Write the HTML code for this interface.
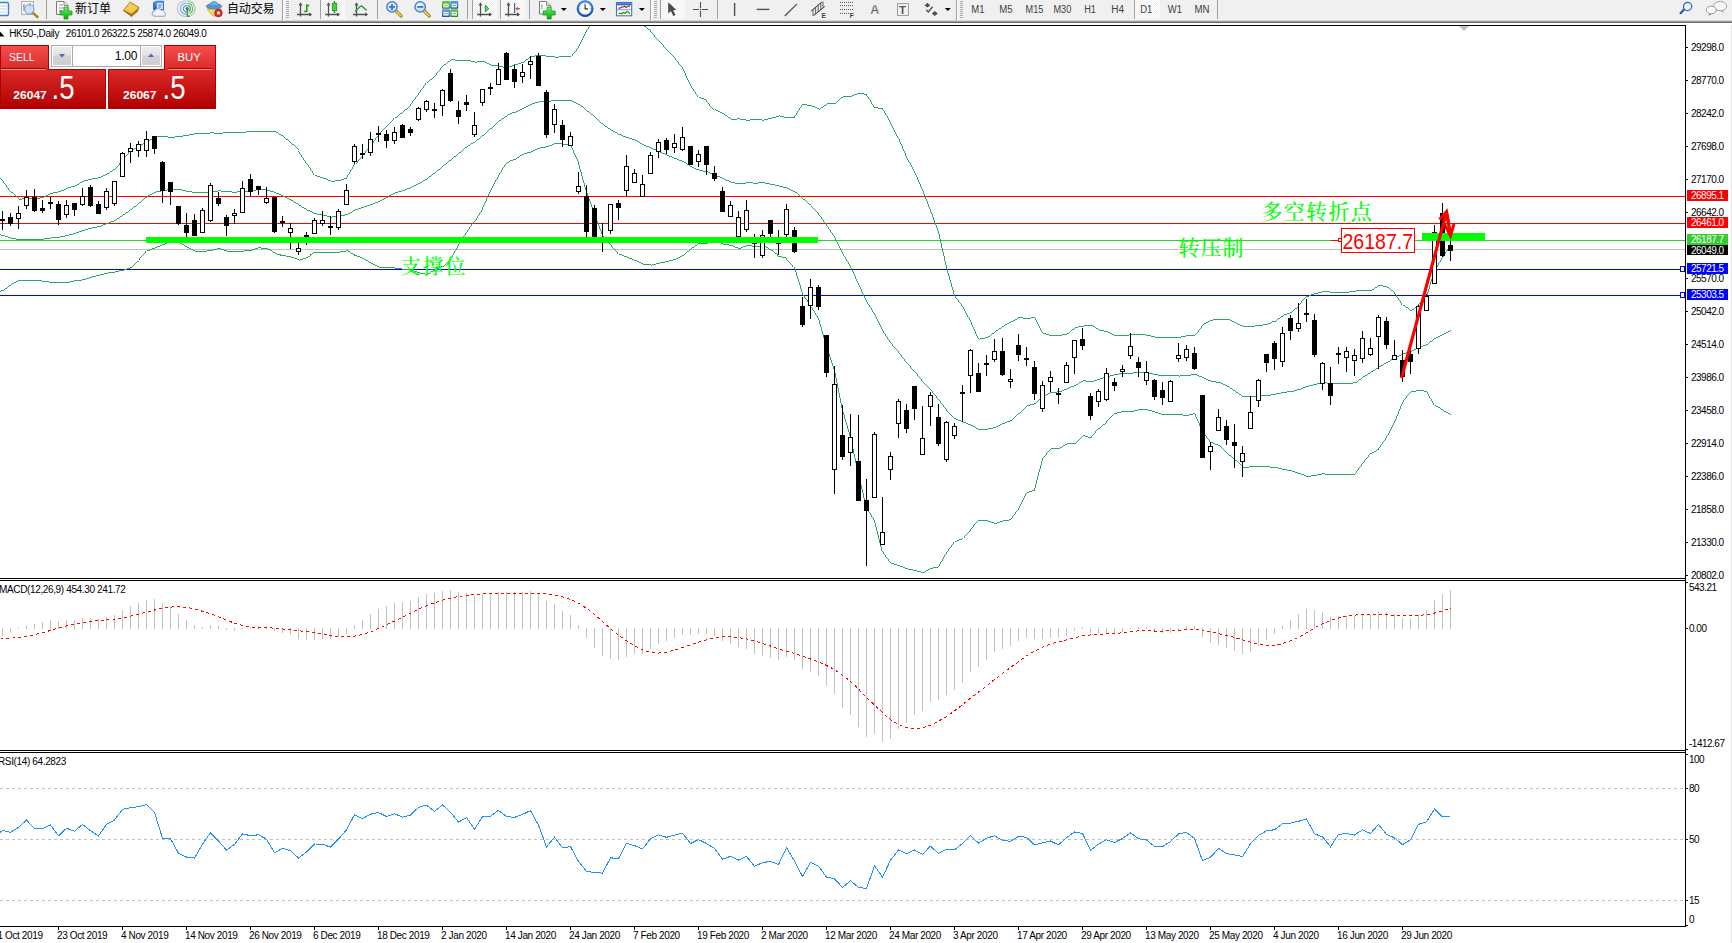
<!DOCTYPE html><html><head><meta charset="utf-8"><title>HK50-,Daily</title><style>html,body{margin:0;padding:0;background:#fff;overflow:hidden}svg{display:block}text{white-space:pre}</style></head><body><svg width="1732" height="943" viewBox="0 0 1732 943" font-family="'Liberation Sans','Noto Sans CJK SC',sans-serif" shape-rendering="crispEdges">
<rect width="1732" height="943" fill="#fff"/>
<g><rect x="0" y="196" width="1685" height="1" fill="#ff0000" /><rect x="0" y="223" width="1685" height="1" fill="#ff0000" /><rect x="0" y="240" width="1685" height="1" fill="#32cd32" /><rect x="0" y="249" width="1685" height="1" fill="#c0c0c0" /><rect x="0" y="269" width="1685" height="1" fill="#0000ff" /><rect x="0" y="295" width="1685" height="1" fill="#0000ff" /><rect x="1680.5" y="266.5" width="4" height="5" fill="#fff" stroke="#0000ff" stroke-width="1"/><rect x="1680.5" y="292.5" width="4" height="5" fill="#fff" stroke="#0000ff" stroke-width="1"/></g>
<g shape-rendering="crispEdges"><polyline fill="none" stroke="#22a257" stroke-width="0.95"  points="-5.5,174.7 2.5,180.4 10.5,192.0 18.5,199.4 26.5,198.0 34.5,199.0 42.5,197.0 50.5,193.4 58.5,191.8 66.5,188.3 74.5,185.7 82.5,181.2 90.5,179.0 98.5,177.8 106.5,173.9 114.5,168.7 122.5,159.5 130.5,150.8 138.5,145.6 146.5,141.7 154.5,136.6 162.5,136.7 170.5,137.3 178.5,136.7 186.5,135.2 194.5,133.7 202.5,133.7 210.5,132.9 218.5,133.3 226.5,132.6 234.5,132.5 242.5,132.1 250.5,131.8 258.5,131.6 266.5,131.8 274.5,131.7 282.5,136.6 290.5,143.1 298.5,150.5 306.5,162.8 314.5,175.3 322.5,178.2 330.5,181.2 338.5,180.7 346.5,177.8 354.5,164.3 362.5,155.5 370.5,146.0 378.5,135.0 386.5,126.8 394.5,117.9 402.5,111.6 410.5,104.7 418.5,93.9 426.5,82.6 434.5,75.5 442.5,65.5 450.5,59.7 458.5,60.5 466.5,60.2 474.5,62.2 482.5,61.4 490.5,65.3 498.5,66.1 506.5,68.0 514.5,64.9 522.5,62.1 530.5,56.4 538.5,55.5 546.5,56.1 554.5,57.1 562.5,56.9 570.5,56.4 578.5,46.5 586.5,30.8 594.5,20.1 602.5,14.7 610.5,15.2 618.5,15.1 626.5,18.2 634.5,19.7 642.5,25.3 650.5,31.4 658.5,40.7 666.5,49.2 674.5,57.6 682.5,68.1 690.5,85.3 698.5,97.3 706.5,100.5 714.5,109.8 722.5,113.7 730.5,119.2 738.5,118.9 746.5,120.3 754.5,119.5 762.5,120.1 770.5,118.3 778.5,115.9 786.5,117.9 794.5,116.9 802.5,104.4 810.5,105.7 818.5,109.1 826.5,103.7 834.5,103.2 842.5,96.2 850.5,96.0 858.5,93.2 866.5,94.7 874.5,107.7 882.5,108.7 890.5,122.5 898.5,138.1 906.5,156.9 914.5,171.8 922.5,190.0 930.5,210.4 938.5,232.2 946.5,267.2 954.5,295.8 962.5,306.2 970.5,321.3 978.5,339.2 986.5,337.6 994.5,331.7 1002.5,326.0 1010.5,321.5 1018.5,317.5 1026.5,318.5 1034.5,317.4 1042.5,333.4 1050.5,335.6 1058.5,335.4 1066.5,333.9 1074.5,327.5 1082.5,326.0 1090.5,325.2 1098.5,330.0 1106.5,331.8 1114.5,335.8 1122.5,335.5 1130.5,334.8 1138.5,334.5 1146.5,335.1 1154.5,337.2 1162.5,337.0 1170.5,337.1 1178.5,337.2 1186.5,335.7 1194.5,335.3 1202.5,324.5 1210.5,320.1 1218.5,319.5 1226.5,319.0 1234.5,322.8 1242.5,326.4 1250.5,326.4 1258.5,325.6 1266.5,324.2 1274.5,321.1 1282.5,315.3 1290.5,312.4 1298.5,305.4 1306.5,296.4 1314.5,293.5 1322.5,291.6 1330.5,292.1 1338.5,292.0 1346.5,292.3 1354.5,291.1 1362.5,290.0 1370.5,290.6 1378.5,285.1 1386.5,287.0 1394.5,293.1 1402.5,305.3 1410.5,310.7 1418.5,305.0 1426.5,296.9 1434.5,270.6 1442.5,257.7 1450.5,245.4"/><polyline fill="none" stroke="#22a257" stroke-width="0.95"  points="-5.5,233.7 2.5,235.4 10.5,238.2 18.5,239.7 26.5,239.4 34.5,239.7 42.5,239.0 50.5,237.9 58.5,237.0 66.5,235.5 74.5,233.2 82.5,230.5 90.5,228.1 98.5,226.4 106.5,223.5 114.5,220.3 122.5,214.8 130.5,209.3 138.5,202.9 146.5,196.3 154.5,192.1 162.5,190.6 170.5,189.1 178.5,189.5 186.5,191.3 194.5,192.6 202.5,192.6 210.5,191.7 218.5,190.8 226.5,191.9 234.5,192.1 242.5,191.6 250.5,190.9 258.5,189.7 266.5,190.1 274.5,192.6 282.5,196.1 290.5,200.1 298.5,205.3 306.5,210.1 314.5,213.7 322.5,215.2 330.5,217.0 338.5,216.4 346.5,214.3 354.5,209.8 362.5,207.0 370.5,204.7 378.5,201.2 386.5,197.0 394.5,192.9 402.5,190.4 410.5,187.4 418.5,183.4 426.5,178.5 434.5,172.4 442.5,165.8 450.5,159.4 458.5,152.9 466.5,146.3 474.5,141.5 482.5,135.0 490.5,128.0 498.5,120.9 506.5,115.4 514.5,112.1 522.5,108.1 530.5,104.2 538.5,101.8 546.5,101.5 554.5,100.3 562.5,100.4 570.5,100.6 578.5,104.5 586.5,111.0 594.5,117.4 602.5,124.9 610.5,130.1 618.5,134.6 626.5,137.7 634.5,140.1 642.5,144.8 650.5,148.2 658.5,151.8 666.5,155.3 674.5,158.4 682.5,161.7 690.5,166.9 698.5,170.3 706.5,171.8 714.5,175.2 722.5,178.8 730.5,182.3 738.5,183.8 746.5,182.8 754.5,183.1 762.5,182.8 770.5,184.3 778.5,186.1 786.5,188.2 794.5,192.1 802.5,199.1 810.5,205.7 818.5,213.9 826.5,225.1 834.5,237.1 842.5,253.1 850.5,266.7 858.5,284.0 866.5,301.3 874.5,314.1 882.5,330.2 890.5,342.7 898.5,352.0 906.5,362.9 914.5,371.1 922.5,381.3 930.5,389.4 938.5,399.4 946.5,410.1 954.5,418.8 962.5,422.2 970.5,425.4 978.5,429.6 986.5,429.2 994.5,427.5 1002.5,423.4 1010.5,420.5 1018.5,413.2 1026.5,405.6 1034.5,403.6 1042.5,396.2 1050.5,392.2 1058.5,391.9 1066.5,388.7 1074.5,385.3 1082.5,380.7 1090.5,381.7 1098.5,379.1 1106.5,376.7 1114.5,374.6 1122.5,373.4 1130.5,373.2 1138.5,372.0 1146.5,372.5 1154.5,374.7 1162.5,375.9 1170.5,375.9 1178.5,376.0 1186.5,375.5 1194.5,374.3 1202.5,377.9 1210.5,381.3 1218.5,382.5 1226.5,386.2 1234.5,391.4 1242.5,396.8 1250.5,396.6 1258.5,396.1 1266.5,395.6 1274.5,394.2 1282.5,392.4 1290.5,391.6 1298.5,389.4 1306.5,386.5 1314.5,384.4 1322.5,382.7 1330.5,383.4 1338.5,383.4 1346.5,383.5 1354.5,382.8 1362.5,376.9 1370.5,371.9 1378.5,366.9 1386.5,362.2 1394.5,357.7 1402.5,353.8 1410.5,351.3 1418.5,347.6 1426.5,344.3 1434.5,338.0 1442.5,334.1 1450.5,330.0"/><polyline fill="none" stroke="#22a257" stroke-width="0.95"  points="-5.5,292.6 2.5,290.5 10.5,284.3 18.5,280.0 26.5,280.9 34.5,280.4 42.5,281.1 50.5,282.4 58.5,282.2 66.5,282.7 74.5,280.7 82.5,279.9 90.5,277.1 98.5,275.0 106.5,273.1 114.5,271.9 122.5,270.1 130.5,267.7 138.5,260.1 146.5,250.9 154.5,247.6 162.5,244.5 170.5,240.8 178.5,242.4 186.5,247.4 194.5,251.4 202.5,251.4 210.5,250.4 218.5,248.4 226.5,251.1 234.5,251.6 242.5,251.1 250.5,250.1 258.5,247.9 266.5,248.4 274.5,253.6 282.5,255.6 290.5,257.0 298.5,260.1 306.5,257.5 314.5,252.1 322.5,252.2 330.5,252.7 338.5,252.1 346.5,250.8 354.5,255.3 362.5,258.5 370.5,263.4 378.5,267.5 386.5,267.2 394.5,268.0 402.5,269.2 410.5,270.2 418.5,272.9 426.5,274.4 434.5,269.4 442.5,266.2 450.5,259.2 458.5,245.3 466.5,232.3 474.5,220.9 482.5,208.5 490.5,190.7 498.5,175.8 506.5,162.7 514.5,159.3 522.5,154.0 530.5,151.9 538.5,148.0 546.5,146.8 554.5,143.6 562.5,144.0 570.5,144.8 578.5,162.5 586.5,191.2 594.5,214.7 602.5,235.0 610.5,244.9 618.5,254.1 626.5,257.2 634.5,260.5 642.5,264.4 650.5,265.0 658.5,263.0 666.5,261.5 674.5,259.3 682.5,255.3 690.5,248.5 698.5,243.3 706.5,243.1 714.5,240.7 722.5,244.0 730.5,245.4 738.5,248.8 746.5,245.2 754.5,246.6 762.5,245.6 770.5,250.2 778.5,256.2 786.5,258.5 794.5,267.2 802.5,293.8 810.5,305.7 818.5,318.7 826.5,346.4 834.5,371.0 842.5,410.0 850.5,437.4 858.5,474.8 866.5,508.0 874.5,520.5 882.5,551.6 890.5,563.0 898.5,565.8 906.5,568.9 914.5,570.5 922.5,572.6 930.5,568.3 938.5,566.6 946.5,552.9 954.5,541.8 962.5,538.2 970.5,529.5 978.5,520.0 986.5,520.8 994.5,523.4 1002.5,520.9 1010.5,519.6 1018.5,508.9 1026.5,492.7 1034.5,489.8 1042.5,458.9 1050.5,448.9 1058.5,448.3 1066.5,443.6 1074.5,443.1 1082.5,435.4 1090.5,438.3 1098.5,428.2 1106.5,421.5 1114.5,413.4 1122.5,411.3 1130.5,411.6 1138.5,409.5 1146.5,409.8 1154.5,412.2 1162.5,414.7 1170.5,414.8 1178.5,414.8 1186.5,415.3 1194.5,413.3 1202.5,431.2 1210.5,442.5 1218.5,445.5 1226.5,453.4 1234.5,460.1 1242.5,467.2 1250.5,466.9 1258.5,466.6 1266.5,466.9 1274.5,467.3 1282.5,469.5 1290.5,470.8 1298.5,473.4 1306.5,476.5 1314.5,475.3 1322.5,473.8 1330.5,474.7 1338.5,474.7 1346.5,474.7 1354.5,474.6 1362.5,463.7 1370.5,453.3 1378.5,448.8 1386.5,437.4 1394.5,422.3 1402.5,402.3 1410.5,391.9 1418.5,390.2 1426.5,391.6 1434.5,405.4 1442.5,410.5 1450.5,414.7"/></g>
<g><rect x="2" y="211" width="1" height="19" fill="#000" /><rect x="0" y="219" width="5" height="2" fill="#000" /><rect x="10" y="213" width="1" height="13" fill="#000" /><rect x="8" y="217" width="5" height="7" fill="#000" /><rect x="18" y="206" width="1" height="23" fill="#000" /><rect x="16" y="213" width="5" height="6" fill="#000" /><rect x="17" y="214" width="3" height="4" fill="#fff" /><rect x="26" y="190" width="1" height="19" fill="#000" /><rect x="24" y="197" width="5" height="9" fill="#000" /><rect x="25" y="198" width="3" height="7" fill="#fff" /><rect x="34" y="189" width="1" height="23" fill="#000" /><rect x="32" y="197" width="5" height="14" fill="#000" /><rect x="42" y="200" width="1" height="13" fill="#000" /><rect x="40" y="208" width="5" height="3" fill="#000" /><rect x="50" y="197" width="1" height="12" fill="#000" /><rect x="48" y="202" width="5" height="2" fill="#000" /><rect x="58" y="201" width="1" height="24" fill="#000" /><rect x="56" y="204" width="5" height="16" fill="#000" /><rect x="66" y="200" width="1" height="18" fill="#000" /><rect x="64" y="205" width="5" height="10" fill="#000" /><rect x="65" y="206" width="3" height="8" fill="#fff" /><rect x="74" y="203" width="1" height="13" fill="#000" /><rect x="72" y="203" width="5" height="7" fill="#000" /><rect x="82" y="188" width="1" height="18" fill="#000" /><rect x="80" y="196" width="5" height="9" fill="#000" /><rect x="81" y="197" width="3" height="7" fill="#fff" /><rect x="90" y="185" width="1" height="22" fill="#000" /><rect x="88" y="187" width="5" height="19" fill="#000" /><rect x="98" y="201" width="1" height="13" fill="#000" /><rect x="96" y="204" width="5" height="10" fill="#000" /><rect x="106" y="188" width="1" height="22" fill="#000" /><rect x="104" y="191" width="5" height="17" fill="#000" /><rect x="105" y="192" width="3" height="15" fill="#fff" /><rect x="114" y="181" width="1" height="25" fill="#000" /><rect x="112" y="181" width="5" height="23" fill="#000" /><rect x="113" y="182" width="3" height="21" fill="#fff" /><rect x="122" y="152" width="1" height="25" fill="#000" /><rect x="120" y="153" width="5" height="24" fill="#000" /><rect x="121" y="154" width="3" height="22" fill="#fff" /><rect x="130" y="143" width="1" height="20" fill="#000" /><rect x="128" y="148" width="5" height="4" fill="#000" /><rect x="129" y="149" width="3" height="2" fill="#fff" /><rect x="138" y="141" width="1" height="16" fill="#000" /><rect x="136" y="144" width="5" height="7" fill="#000" /><rect x="137" y="145" width="3" height="5" fill="#fff" /><rect x="146" y="131" width="1" height="26" fill="#000" /><rect x="144" y="139" width="5" height="12" fill="#000" /><rect x="145" y="140" width="3" height="10" fill="#fff" /><rect x="154" y="136" width="1" height="18" fill="#000" /><rect x="152" y="136" width="5" height="13" fill="#000" /><rect x="162" y="161" width="1" height="42" fill="#000" /><rect x="160" y="162" width="5" height="29" fill="#000" /><rect x="170" y="182" width="1" height="23" fill="#000" /><rect x="168" y="182" width="5" height="10" fill="#000" /><rect x="178" y="206" width="1" height="19" fill="#000" /><rect x="176" y="206" width="5" height="18" fill="#000" /><rect x="186" y="213" width="1" height="25" fill="#000" /><rect x="184" y="225" width="5" height="8" fill="#000" /><rect x="194" y="214" width="1" height="22" fill="#000" /><rect x="192" y="220" width="5" height="16" fill="#000" /><rect x="202" y="208" width="1" height="25" fill="#000" /><rect x="200" y="210" width="5" height="23" fill="#000" /><rect x="201" y="211" width="3" height="21" fill="#fff" /><rect x="210" y="183" width="1" height="39" fill="#000" /><rect x="208" y="185" width="5" height="36" fill="#000" /><rect x="209" y="186" width="3" height="34" fill="#fff" /><rect x="218" y="192" width="1" height="14" fill="#000" /><rect x="216" y="198" width="5" height="6" fill="#000" /><rect x="226" y="215" width="1" height="21" fill="#000" /><rect x="224" y="217" width="5" height="9" fill="#000" /><rect x="234" y="209" width="1" height="15" fill="#000" /><rect x="232" y="213" width="5" height="3" fill="#000" /><rect x="233" y="214" width="3" height="1" fill="#fff" /><rect x="242" y="181" width="1" height="32" fill="#000" /><rect x="240" y="188" width="5" height="25" fill="#000" /><rect x="241" y="189" width="3" height="23" fill="#fff" /><rect x="250" y="174" width="1" height="22" fill="#000" /><rect x="248" y="179" width="5" height="13" fill="#000" /><rect x="258" y="186" width="1" height="9" fill="#000" /><rect x="256" y="186" width="5" height="4" fill="#000" /><rect x="266" y="187" width="1" height="17" fill="#000" /><rect x="264" y="198" width="5" height="5" fill="#000" /><rect x="265" y="199" width="3" height="3" fill="#fff" /><rect x="274" y="197" width="1" height="36" fill="#000" /><rect x="272" y="197" width="5" height="35" fill="#000" /><rect x="282" y="216" width="1" height="11" fill="#000" /><rect x="280" y="221" width="5" height="2" fill="#000" /><rect x="290" y="223" width="1" height="26" fill="#000" /><rect x="288" y="228" width="5" height="5" fill="#000" /><rect x="289" y="229" width="3" height="3" fill="#fff" /><rect x="298" y="243" width="1" height="12" fill="#000" /><rect x="296" y="248" width="5" height="4" fill="#000" /><rect x="297" y="249" width="3" height="2" fill="#fff" /><rect x="306" y="232" width="1" height="13" fill="#000" /><rect x="304" y="235" width="5" height="2" fill="#000" /><rect x="314" y="218" width="1" height="16" fill="#000" /><rect x="312" y="220" width="5" height="14" fill="#000" /><rect x="313" y="221" width="3" height="12" fill="#fff" /><rect x="322" y="211" width="1" height="15" fill="#000" /><rect x="320" y="220" width="5" height="4" fill="#000" /><rect x="321" y="221" width="3" height="2" fill="#fff" /><rect x="330" y="216" width="1" height="19" fill="#000" /><rect x="328" y="226" width="5" height="2" fill="#000" /><rect x="338" y="209" width="1" height="21" fill="#000" /><rect x="336" y="211" width="5" height="17" fill="#000" /><rect x="337" y="212" width="3" height="15" fill="#fff" /><rect x="346" y="184" width="1" height="21" fill="#000" /><rect x="344" y="190" width="5" height="15" fill="#000" /><rect x="345" y="191" width="3" height="13" fill="#fff" /><rect x="354" y="144" width="1" height="20" fill="#000" /><rect x="352" y="146" width="5" height="16" fill="#000" /><rect x="353" y="147" width="3" height="14" fill="#fff" /><rect x="362" y="144" width="1" height="15" fill="#000" /><rect x="360" y="153" width="5" height="2" fill="#000" /><rect x="370" y="132" width="1" height="24" fill="#000" /><rect x="368" y="139" width="5" height="14" fill="#000" /><rect x="369" y="140" width="3" height="12" fill="#fff" /><rect x="378" y="126" width="1" height="16" fill="#000" /><rect x="376" y="133" width="5" height="2" fill="#000" /><rect x="386" y="130" width="1" height="18" fill="#000" /><rect x="384" y="134" width="5" height="7" fill="#000" /><rect x="394" y="127" width="1" height="17" fill="#000" /><rect x="392" y="132" width="5" height="9" fill="#000" /><rect x="393" y="133" width="3" height="7" fill="#fff" /><rect x="402" y="124" width="1" height="14" fill="#000" /><rect x="400" y="125" width="5" height="13" fill="#000" /><rect x="410" y="127" width="1" height="9" fill="#000" /><rect x="408" y="129" width="5" height="4" fill="#000" /><rect x="418" y="107" width="1" height="14" fill="#000" /><rect x="416" y="108" width="5" height="12" fill="#000" /><rect x="417" y="109" width="3" height="10" fill="#fff" /><rect x="426" y="100" width="1" height="12" fill="#000" /><rect x="424" y="101" width="5" height="9" fill="#000" /><rect x="425" y="102" width="3" height="7" fill="#fff" /><rect x="434" y="103" width="1" height="15" fill="#000" /><rect x="432" y="109" width="5" height="2" fill="#000" /><rect x="442" y="89" width="1" height="27" fill="#000" /><rect x="440" y="90" width="5" height="16" fill="#000" /><rect x="441" y="91" width="3" height="14" fill="#fff" /><rect x="450" y="69" width="1" height="33" fill="#000" /><rect x="448" y="73" width="5" height="28" fill="#000" /><rect x="458" y="101" width="1" height="23" fill="#000" /><rect x="456" y="110" width="5" height="7" fill="#000" /><rect x="466" y="95" width="1" height="16" fill="#000" /><rect x="464" y="102" width="5" height="3" fill="#000" /><rect x="474" y="112" width="1" height="25" fill="#000" /><rect x="472" y="125" width="5" height="10" fill="#000" /><rect x="473" y="126" width="3" height="8" fill="#fff" /><rect x="482" y="89" width="1" height="17" fill="#000" /><rect x="480" y="89" width="5" height="14" fill="#000" /><rect x="481" y="90" width="3" height="12" fill="#fff" /><rect x="490" y="83" width="1" height="12" fill="#000" /><rect x="488" y="87" width="5" height="2" fill="#000" /><rect x="498" y="63" width="1" height="22" fill="#000" /><rect x="496" y="69" width="5" height="16" fill="#000" /><rect x="497" y="70" width="3" height="14" fill="#fff" /><rect x="506" y="52" width="1" height="28" fill="#000" /><rect x="504" y="53" width="5" height="27" fill="#000" /><rect x="514" y="65" width="1" height="23" fill="#000" /><rect x="512" y="69" width="5" height="13" fill="#000" /><rect x="522" y="64" width="1" height="19" fill="#000" /><rect x="520" y="72" width="5" height="5" fill="#000" /><rect x="521" y="73" width="3" height="3" fill="#fff" /><rect x="530" y="56" width="1" height="23" fill="#000" /><rect x="528" y="61" width="5" height="4" fill="#000" /><rect x="529" y="62" width="3" height="2" fill="#fff" /><rect x="538" y="53" width="1" height="33" fill="#000" /><rect x="536" y="56" width="5" height="30" fill="#000" /><rect x="546" y="90" width="1" height="48" fill="#000" /><rect x="544" y="92" width="5" height="43" fill="#000" /><rect x="554" y="104" width="1" height="29" fill="#000" /><rect x="552" y="109" width="5" height="16" fill="#000" /><rect x="553" y="110" width="3" height="14" fill="#fff" /><rect x="562" y="120" width="1" height="27" fill="#000" /><rect x="560" y="125" width="5" height="15" fill="#000" /><rect x="570" y="132" width="1" height="14" fill="#000" /><rect x="568" y="136" width="5" height="10" fill="#000" /><rect x="569" y="137" width="3" height="8" fill="#fff" /><rect x="578" y="172" width="1" height="22" fill="#000" /><rect x="576" y="186" width="5" height="6" fill="#000" /><rect x="577" y="187" width="3" height="4" fill="#fff" /><rect x="586" y="185" width="1" height="53" fill="#000" /><rect x="584" y="196" width="5" height="36" fill="#000" /><rect x="594" y="205" width="1" height="33" fill="#000" /><rect x="592" y="208" width="5" height="30" fill="#000" /><rect x="602" y="223" width="1" height="29" fill="#000" /><rect x="600" y="239" width="5" height="2" fill="#000" /><rect x="610" y="204" width="1" height="30" fill="#000" /><rect x="608" y="204" width="5" height="27" fill="#000" /><rect x="609" y="205" width="3" height="25" fill="#fff" /><rect x="618" y="200" width="1" height="20" fill="#000" /><rect x="616" y="203" width="5" height="5" fill="#000" /><rect x="626" y="155" width="1" height="41" fill="#000" /><rect x="624" y="166" width="5" height="25" fill="#000" /><rect x="625" y="167" width="3" height="23" fill="#fff" /><rect x="634" y="169" width="1" height="14" fill="#000" /><rect x="632" y="173" width="5" height="10" fill="#000" /><rect x="633" y="174" width="3" height="8" fill="#fff" /><rect x="642" y="175" width="1" height="22" fill="#000" /><rect x="640" y="184" width="5" height="13" fill="#000" /><rect x="641" y="185" width="3" height="11" fill="#fff" /><rect x="650" y="152" width="1" height="22" fill="#000" /><rect x="648" y="155" width="5" height="19" fill="#000" /><rect x="649" y="156" width="3" height="17" fill="#fff" /><rect x="658" y="139" width="1" height="19" fill="#000" /><rect x="656" y="142" width="5" height="10" fill="#000" /><rect x="657" y="143" width="3" height="8" fill="#fff" /><rect x="666" y="138" width="1" height="16" fill="#000" /><rect x="664" y="140" width="5" height="10" fill="#000" /><rect x="674" y="134" width="1" height="19" fill="#000" /><rect x="672" y="143" width="5" height="5" fill="#000" /><rect x="673" y="144" width="3" height="3" fill="#fff" /><rect x="682" y="127" width="1" height="24" fill="#000" /><rect x="680" y="137" width="5" height="13" fill="#000" /><rect x="681" y="138" width="3" height="11" fill="#fff" /><rect x="690" y="146" width="1" height="19" fill="#000" /><rect x="688" y="146" width="5" height="19" fill="#000" /><rect x="698" y="150" width="1" height="17" fill="#000" /><rect x="696" y="154" width="5" height="8" fill="#000" /><rect x="697" y="155" width="3" height="6" fill="#fff" /><rect x="706" y="146" width="1" height="29" fill="#000" /><rect x="704" y="146" width="5" height="19" fill="#000" /><rect x="714" y="166" width="1" height="15" fill="#000" /><rect x="712" y="173" width="5" height="6" fill="#000" /><rect x="722" y="187" width="1" height="25" fill="#000" /><rect x="720" y="191" width="5" height="21" fill="#000" /><rect x="730" y="201" width="1" height="16" fill="#000" /><rect x="728" y="205" width="5" height="12" fill="#000" /><rect x="729" y="206" width="3" height="10" fill="#fff" /><rect x="738" y="211" width="1" height="26" fill="#000" /><rect x="736" y="217" width="5" height="20" fill="#000" /><rect x="737" y="218" width="3" height="18" fill="#fff" /><rect x="746" y="200" width="1" height="32" fill="#000" /><rect x="744" y="210" width="5" height="20" fill="#000" /><rect x="745" y="211" width="3" height="18" fill="#fff" /><rect x="754" y="234" width="1" height="24" fill="#000" /><rect x="752" y="242" width="5" height="2" fill="#000" /><rect x="762" y="230" width="1" height="28" fill="#000" /><rect x="760" y="235" width="5" height="21" fill="#000" /><rect x="761" y="236" width="3" height="19" fill="#fff" /><rect x="770" y="220" width="1" height="18" fill="#000" /><rect x="768" y="220" width="5" height="14" fill="#000" /><rect x="778" y="230" width="1" height="25" fill="#000" /><rect x="776" y="242" width="5" height="2" fill="#000" /><rect x="786" y="204" width="1" height="33" fill="#000" /><rect x="784" y="209" width="5" height="26" fill="#000" /><rect x="785" y="210" width="3" height="24" fill="#fff" /><rect x="794" y="227" width="1" height="26" fill="#000" /><rect x="792" y="230" width="5" height="22" fill="#000" /><rect x="802" y="297" width="1" height="30" fill="#000" /><rect x="800" y="306" width="5" height="19" fill="#000" /><rect x="810" y="279" width="1" height="40" fill="#000" /><rect x="808" y="287" width="5" height="19" fill="#000" /><rect x="809" y="288" width="3" height="17" fill="#fff" /><rect x="818" y="285" width="1" height="25" fill="#000" /><rect x="816" y="287" width="5" height="20" fill="#000" /><rect x="826" y="335" width="1" height="42" fill="#000" /><rect x="824" y="335" width="5" height="38" fill="#000" /><rect x="834" y="366" width="1" height="128" fill="#000" /><rect x="832" y="384" width="5" height="86" fill="#000" /><rect x="833" y="385" width="3" height="84" fill="#fff" /><rect x="842" y="405" width="1" height="55" fill="#000" /><rect x="840" y="435" width="5" height="22" fill="#000" /><rect x="850" y="414" width="1" height="52" fill="#000" /><rect x="848" y="437" width="5" height="16" fill="#000" /><rect x="849" y="438" width="3" height="14" fill="#fff" /><rect x="858" y="415" width="1" height="86" fill="#000" /><rect x="856" y="461" width="5" height="40" fill="#000" /><rect x="866" y="479" width="1" height="87" fill="#000" /><rect x="864" y="500" width="5" height="11" fill="#000" /><rect x="874" y="432" width="1" height="66" fill="#000" /><rect x="872" y="434" width="5" height="64" fill="#000" /><rect x="873" y="435" width="3" height="62" fill="#fff" /><rect x="882" y="497" width="1" height="48" fill="#000" /><rect x="880" y="532" width="5" height="13" fill="#000" /><rect x="881" y="533" width="3" height="11" fill="#fff" /><rect x="890" y="452" width="1" height="28" fill="#000" /><rect x="888" y="456" width="5" height="14" fill="#000" /><rect x="889" y="457" width="3" height="12" fill="#fff" /><rect x="898" y="399" width="1" height="39" fill="#000" /><rect x="896" y="401" width="5" height="23" fill="#000" /><rect x="897" y="402" width="3" height="21" fill="#fff" /><rect x="906" y="404" width="1" height="29" fill="#000" /><rect x="904" y="410" width="5" height="19" fill="#000" /><rect x="914" y="386" width="1" height="34" fill="#000" /><rect x="912" y="386" width="5" height="23" fill="#000" /><rect x="922" y="406" width="1" height="49" fill="#000" /><rect x="920" y="438" width="5" height="17" fill="#000" /><rect x="921" y="439" width="3" height="15" fill="#fff" /><rect x="930" y="392" width="1" height="34" fill="#000" /><rect x="928" y="395" width="5" height="12" fill="#000" /><rect x="929" y="396" width="3" height="10" fill="#fff" /><rect x="938" y="404" width="1" height="42" fill="#000" /><rect x="936" y="417" width="5" height="27" fill="#000" /><rect x="946" y="421" width="1" height="41" fill="#000" /><rect x="944" y="422" width="5" height="38" fill="#000" /><rect x="945" y="423" width="3" height="36" fill="#fff" /><rect x="954" y="423" width="1" height="16" fill="#000" /><rect x="952" y="426" width="5" height="10" fill="#000" /><rect x="953" y="427" width="3" height="8" fill="#fff" /><rect x="962" y="385" width="1" height="37" fill="#000" /><rect x="960" y="392" width="5" height="2" fill="#000" /><rect x="970" y="349" width="1" height="44" fill="#000" /><rect x="968" y="350" width="5" height="26" fill="#000" /><rect x="969" y="351" width="3" height="24" fill="#fff" /><rect x="978" y="363" width="1" height="29" fill="#000" /><rect x="976" y="373" width="5" height="19" fill="#000" /><rect x="986" y="355" width="1" height="21" fill="#000" /><rect x="984" y="363" width="5" height="2" fill="#000" /><rect x="994" y="339" width="1" height="23" fill="#000" /><rect x="992" y="351" width="5" height="9" fill="#000" /><rect x="993" y="352" width="3" height="7" fill="#fff" /><rect x="1002" y="338" width="1" height="38" fill="#000" /><rect x="1000" y="351" width="5" height="24" fill="#000" /><rect x="1010" y="369" width="1" height="19" fill="#000" /><rect x="1008" y="379" width="5" height="3" fill="#000" /><rect x="1009" y="380" width="3" height="1" fill="#fff" /><rect x="1018" y="334" width="1" height="27" fill="#000" /><rect x="1016" y="345" width="5" height="10" fill="#000" /><rect x="1026" y="347" width="1" height="19" fill="#000" /><rect x="1024" y="358" width="5" height="2" fill="#000" /><rect x="1034" y="361" width="1" height="39" fill="#000" /><rect x="1032" y="367" width="5" height="27" fill="#000" /><rect x="1042" y="381" width="1" height="31" fill="#000" /><rect x="1040" y="385" width="5" height="24" fill="#000" /><rect x="1041" y="386" width="3" height="22" fill="#fff" /><rect x="1050" y="371" width="1" height="21" fill="#000" /><rect x="1048" y="377" width="5" height="5" fill="#000" /><rect x="1049" y="378" width="3" height="3" fill="#fff" /><rect x="1058" y="388" width="1" height="16" fill="#000" /><rect x="1056" y="393" width="5" height="2" fill="#000" /><rect x="1066" y="362" width="1" height="21" fill="#000" /><rect x="1064" y="365" width="5" height="18" fill="#000" /><rect x="1065" y="366" width="3" height="16" fill="#fff" /><rect x="1074" y="340" width="1" height="34" fill="#000" /><rect x="1072" y="340" width="5" height="18" fill="#000" /><rect x="1073" y="341" width="3" height="16" fill="#fff" /><rect x="1082" y="328" width="1" height="22" fill="#000" /><rect x="1080" y="339" width="5" height="7" fill="#000" /><rect x="1090" y="393" width="1" height="27" fill="#000" /><rect x="1088" y="396" width="5" height="20" fill="#000" /><rect x="1098" y="389" width="1" height="18" fill="#000" /><rect x="1096" y="391" width="5" height="11" fill="#000" /><rect x="1097" y="392" width="3" height="9" fill="#fff" /><rect x="1106" y="368" width="1" height="33" fill="#000" /><rect x="1104" y="373" width="5" height="27" fill="#000" /><rect x="1105" y="374" width="3" height="25" fill="#fff" /><rect x="1114" y="378" width="1" height="13" fill="#000" /><rect x="1112" y="382" width="5" height="4" fill="#000" /><rect x="1122" y="365" width="1" height="12" fill="#000" /><rect x="1120" y="369" width="5" height="3" fill="#000" /><rect x="1121" y="370" width="3" height="1" fill="#fff" /><rect x="1130" y="333" width="1" height="26" fill="#000" /><rect x="1128" y="346" width="5" height="10" fill="#000" /><rect x="1129" y="347" width="3" height="8" fill="#fff" /><rect x="1138" y="357" width="1" height="20" fill="#000" /><rect x="1136" y="362" width="5" height="6" fill="#000" /><rect x="1146" y="361" width="1" height="24" fill="#000" /><rect x="1144" y="372" width="5" height="9" fill="#000" /><rect x="1145" y="373" width="3" height="7" fill="#fff" /><rect x="1154" y="379" width="1" height="21" fill="#000" /><rect x="1152" y="380" width="5" height="17" fill="#000" /><rect x="1162" y="382" width="1" height="23" fill="#000" /><rect x="1160" y="390" width="5" height="8" fill="#000" /><rect x="1170" y="380" width="1" height="22" fill="#000" /><rect x="1168" y="381" width="5" height="21" fill="#000" /><rect x="1169" y="382" width="3" height="19" fill="#fff" /><rect x="1178" y="343" width="1" height="19" fill="#000" /><rect x="1176" y="355" width="5" height="4" fill="#000" /><rect x="1177" y="356" width="3" height="2" fill="#fff" /><rect x="1186" y="345" width="1" height="16" fill="#000" /><rect x="1184" y="349" width="5" height="9" fill="#000" /><rect x="1185" y="350" width="3" height="7" fill="#fff" /><rect x="1194" y="347" width="1" height="23" fill="#000" /><rect x="1192" y="353" width="5" height="16" fill="#000" /><rect x="1202" y="395" width="1" height="63" fill="#000" /><rect x="1200" y="395" width="5" height="63" fill="#000" /><rect x="1210" y="442" width="1" height="28" fill="#000" /><rect x="1208" y="446" width="5" height="6" fill="#000" /><rect x="1209" y="447" width="3" height="4" fill="#fff" /><rect x="1218" y="409" width="1" height="22" fill="#000" /><rect x="1216" y="417" width="5" height="14" fill="#000" /><rect x="1217" y="418" width="3" height="12" fill="#fff" /><rect x="1226" y="420" width="1" height="25" fill="#000" /><rect x="1224" y="426" width="5" height="14" fill="#000" /><rect x="1234" y="424" width="1" height="44" fill="#000" /><rect x="1232" y="442" width="5" height="4" fill="#000" /><rect x="1242" y="446" width="1" height="31" fill="#000" /><rect x="1240" y="453" width="5" height="9" fill="#000" /><rect x="1241" y="454" width="3" height="7" fill="#fff" /><rect x="1250" y="396" width="1" height="33" fill="#000" /><rect x="1248" y="412" width="5" height="17" fill="#000" /><rect x="1249" y="413" width="3" height="15" fill="#fff" /><rect x="1258" y="379" width="1" height="28" fill="#000" /><rect x="1256" y="380" width="5" height="21" fill="#000" /><rect x="1257" y="381" width="3" height="19" fill="#fff" /><rect x="1266" y="354" width="1" height="18" fill="#000" /><rect x="1264" y="354" width="5" height="9" fill="#000" /><rect x="1274" y="341" width="1" height="29" fill="#000" /><rect x="1272" y="343" width="5" height="16" fill="#000" /><rect x="1282" y="327" width="1" height="40" fill="#000" /><rect x="1280" y="333" width="5" height="29" fill="#000" /><rect x="1281" y="334" width="3" height="27" fill="#fff" /><rect x="1290" y="315" width="1" height="25" fill="#000" /><rect x="1288" y="318" width="5" height="13" fill="#000" /><rect x="1298" y="303" width="1" height="29" fill="#000" /><rect x="1296" y="323" width="5" height="6" fill="#000" /><rect x="1297" y="324" width="3" height="4" fill="#fff" /><rect x="1306" y="299" width="1" height="23" fill="#000" /><rect x="1304" y="313" width="5" height="2" fill="#000" /><rect x="1314" y="314" width="1" height="43" fill="#000" /><rect x="1312" y="320" width="5" height="35" fill="#000" /><rect x="1322" y="362" width="1" height="28" fill="#000" /><rect x="1320" y="363" width="5" height="21" fill="#000" /><rect x="1321" y="364" width="3" height="19" fill="#fff" /><rect x="1330" y="367" width="1" height="38" fill="#000" /><rect x="1328" y="383" width="5" height="13" fill="#000" /><rect x="1338" y="347" width="1" height="17" fill="#000" /><rect x="1336" y="353" width="5" height="2" fill="#000" /><rect x="1346" y="347" width="1" height="25" fill="#000" /><rect x="1344" y="351" width="5" height="7" fill="#000" /><rect x="1345" y="352" width="3" height="5" fill="#fff" /><rect x="1354" y="349" width="1" height="27" fill="#000" /><rect x="1352" y="355" width="5" height="6" fill="#000" /><rect x="1353" y="356" width="3" height="4" fill="#fff" /><rect x="1362" y="331" width="1" height="32" fill="#000" /><rect x="1360" y="338" width="5" height="21" fill="#000" /><rect x="1361" y="339" width="3" height="19" fill="#fff" /><rect x="1370" y="338" width="1" height="18" fill="#000" /><rect x="1368" y="348" width="5" height="7" fill="#000" /><rect x="1369" y="349" width="3" height="5" fill="#fff" /><rect x="1378" y="315" width="1" height="54" fill="#000" /><rect x="1376" y="317" width="5" height="20" fill="#000" /><rect x="1377" y="318" width="3" height="18" fill="#fff" /><rect x="1386" y="317" width="1" height="32" fill="#000" /><rect x="1384" y="321" width="5" height="24" fill="#000" /><rect x="1394" y="340" width="1" height="20" fill="#000" /><rect x="1392" y="355" width="5" height="5" fill="#000" /><rect x="1393" y="356" width="3" height="3" fill="#fff" /><rect x="1402" y="350" width="1" height="32" fill="#000" /><rect x="1400" y="360" width="5" height="17" fill="#000" /><rect x="1410" y="350" width="1" height="24" fill="#000" /><rect x="1408" y="354" width="5" height="8" fill="#000" /><rect x="1418" y="305" width="1" height="49" fill="#000" /><rect x="1416" y="306" width="5" height="43" fill="#000" /><rect x="1417" y="307" width="3" height="41" fill="#fff" /><rect x="1426" y="294" width="1" height="17" fill="#000" /><rect x="1424" y="296" width="5" height="15" fill="#000" /><rect x="1425" y="297" width="3" height="13" fill="#fff" /><rect x="1434" y="225" width="1" height="59" fill="#000" /><rect x="1432" y="232" width="5" height="52" fill="#000" /><rect x="1433" y="233" width="3" height="50" fill="#fff" /><rect x="1442" y="203" width="1" height="54" fill="#000" /><rect x="1440" y="213" width="5" height="43" fill="#000" /><rect x="1450" y="241" width="1" height="20" fill="#000" /><rect x="1448" y="245" width="5" height="6" fill="#000" /></g>
<g><rect x="2" y="628" width="1" height="8" fill="#c0c0c0" /><rect x="10" y="628" width="1" height="5" fill="#c0c0c0" /><rect x="18" y="628" width="1" height="1" fill="#c0c0c0" /><rect x="26" y="626" width="1" height="3" fill="#c0c0c0" /><rect x="34" y="624" width="1" height="5" fill="#c0c0c0" /><rect x="42" y="622" width="1" height="7" fill="#c0c0c0" /><rect x="50" y="620" width="1" height="9" fill="#c0c0c0" /><rect x="58" y="621" width="1" height="8" fill="#c0c0c0" /><rect x="66" y="620" width="1" height="9" fill="#c0c0c0" /><rect x="74" y="620" width="1" height="9" fill="#c0c0c0" /><rect x="82" y="618" width="1" height="11" fill="#c0c0c0" /><rect x="90" y="618" width="1" height="11" fill="#c0c0c0" /><rect x="98" y="619" width="1" height="10" fill="#c0c0c0" /><rect x="106" y="617" width="1" height="12" fill="#c0c0c0" /><rect x="114" y="615" width="1" height="14" fill="#c0c0c0" /><rect x="122" y="610" width="1" height="19" fill="#c0c0c0" /><rect x="130" y="606" width="1" height="23" fill="#c0c0c0" /><rect x="138" y="603" width="1" height="26" fill="#c0c0c0" /><rect x="146" y="600" width="1" height="29" fill="#c0c0c0" /><rect x="154" y="599" width="1" height="30" fill="#c0c0c0" /><rect x="162" y="603" width="1" height="26" fill="#c0c0c0" /><rect x="170" y="607" width="1" height="22" fill="#c0c0c0" /><rect x="178" y="614" width="1" height="15" fill="#c0c0c0" /><rect x="186" y="620" width="1" height="9" fill="#c0c0c0" /><rect x="194" y="625" width="1" height="4" fill="#c0c0c0" /><rect x="202" y="627" width="1" height="2" fill="#c0c0c0" /><rect x="210" y="625" width="1" height="4" fill="#c0c0c0" /><rect x="218" y="626" width="1" height="3" fill="#c0c0c0" /><rect x="226" y="628" width="1" height="2" fill="#c0c0c0" /><rect x="234" y="628" width="1" height="3" fill="#c0c0c0" /><rect x="242" y="628" width="1" height="1" fill="#c0c0c0" /><rect x="250" y="627" width="1" height="2" fill="#c0c0c0" /><rect x="258" y="626" width="1" height="3" fill="#c0c0c0" /><rect x="266" y="626" width="1" height="3" fill="#c0c0c0" /><rect x="274" y="628" width="1" height="3" fill="#c0c0c0" /><rect x="282" y="628" width="1" height="5" fill="#c0c0c0" /><rect x="290" y="628" width="1" height="7" fill="#c0c0c0" /><rect x="298" y="628" width="1" height="11" fill="#c0c0c0" /><rect x="306" y="628" width="1" height="12" fill="#c0c0c0" /><rect x="314" y="628" width="1" height="12" fill="#c0c0c0" /><rect x="322" y="628" width="1" height="11" fill="#c0c0c0" /><rect x="330" y="628" width="1" height="11" fill="#c0c0c0" /><rect x="338" y="628" width="1" height="9" fill="#c0c0c0" /><rect x="346" y="628" width="1" height="6" fill="#c0c0c0" /><rect x="354" y="625" width="1" height="4" fill="#c0c0c0" /><rect x="362" y="620" width="1" height="9" fill="#c0c0c0" /><rect x="370" y="614" width="1" height="15" fill="#c0c0c0" /><rect x="378" y="609" width="1" height="20" fill="#c0c0c0" /><rect x="386" y="606" width="1" height="23" fill="#c0c0c0" /><rect x="394" y="603" width="1" height="26" fill="#c0c0c0" /><rect x="402" y="602" width="1" height="27" fill="#c0c0c0" /><rect x="410" y="601" width="1" height="28" fill="#c0c0c0" /><rect x="418" y="597" width="1" height="32" fill="#c0c0c0" /><rect x="426" y="594" width="1" height="35" fill="#c0c0c0" /><rect x="434" y="593" width="1" height="36" fill="#c0c0c0" /><rect x="442" y="591" width="1" height="38" fill="#c0c0c0" /><rect x="450" y="590" width="1" height="39" fill="#c0c0c0" /><rect x="458" y="592" width="1" height="37" fill="#c0c0c0" /><rect x="466" y="593" width="1" height="36" fill="#c0c0c0" /><rect x="474" y="596" width="1" height="33" fill="#c0c0c0" /><rect x="482" y="594" width="1" height="35" fill="#c0c0c0" /><rect x="490" y="594" width="1" height="35" fill="#c0c0c0" /><rect x="498" y="592" width="1" height="37" fill="#c0c0c0" /><rect x="506" y="592" width="1" height="37" fill="#c0c0c0" /><rect x="514" y="592" width="1" height="37" fill="#c0c0c0" /><rect x="522" y="592" width="1" height="37" fill="#c0c0c0" /><rect x="530" y="591" width="1" height="38" fill="#c0c0c0" /><rect x="538" y="593" width="1" height="36" fill="#c0c0c0" /><rect x="546" y="601" width="1" height="28" fill="#c0c0c0" /><rect x="554" y="604" width="1" height="25" fill="#c0c0c0" /><rect x="562" y="611" width="1" height="18" fill="#c0c0c0" /><rect x="570" y="615" width="1" height="14" fill="#c0c0c0" /><rect x="578" y="625" width="1" height="4" fill="#c0c0c0" /><rect x="586" y="628" width="1" height="10" fill="#c0c0c0" /><rect x="594" y="628" width="1" height="20" fill="#c0c0c0" /><rect x="602" y="628" width="1" height="28" fill="#c0c0c0" /><rect x="610" y="628" width="1" height="31" fill="#c0c0c0" /><rect x="618" y="628" width="1" height="32" fill="#c0c0c0" /><rect x="626" y="628" width="1" height="29" fill="#c0c0c0" /><rect x="634" y="628" width="1" height="26" fill="#c0c0c0" /><rect x="642" y="628" width="1" height="26" fill="#c0c0c0" /><rect x="650" y="628" width="1" height="21" fill="#c0c0c0" /><rect x="658" y="628" width="1" height="16" fill="#c0c0c0" /><rect x="666" y="628" width="1" height="13" fill="#c0c0c0" /><rect x="674" y="628" width="1" height="10" fill="#c0c0c0" /><rect x="682" y="628" width="1" height="7" fill="#c0c0c0" /><rect x="690" y="628" width="1" height="7" fill="#c0c0c0" /><rect x="698" y="628" width="1" height="6" fill="#c0c0c0" /><rect x="706" y="628" width="1" height="6" fill="#c0c0c0" /><rect x="714" y="628" width="1" height="8" fill="#c0c0c0" /><rect x="722" y="628" width="1" height="13" fill="#c0c0c0" /><rect x="730" y="628" width="1" height="16" fill="#c0c0c0" /><rect x="738" y="628" width="1" height="19" fill="#c0c0c0" /><rect x="746" y="628" width="1" height="21" fill="#c0c0c0" /><rect x="754" y="628" width="1" height="26" fill="#c0c0c0" /><rect x="762" y="628" width="1" height="28" fill="#c0c0c0" /><rect x="770" y="628" width="1" height="30" fill="#c0c0c0" /><rect x="778" y="628" width="1" height="32" fill="#c0c0c0" /><rect x="786" y="628" width="1" height="29" fill="#c0c0c0" /><rect x="794" y="628" width="1" height="32" fill="#c0c0c0" /><rect x="802" y="628" width="1" height="41" fill="#c0c0c0" /><rect x="810" y="628" width="1" height="44" fill="#c0c0c0" /><rect x="818" y="628" width="1" height="48" fill="#c0c0c0" /><rect x="826" y="628" width="1" height="58" fill="#c0c0c0" /><rect x="834" y="628" width="1" height="66" fill="#c0c0c0" /><rect x="842" y="628" width="1" height="80" fill="#c0c0c0" /><rect x="850" y="628" width="1" height="87" fill="#c0c0c0" /><rect x="858" y="628" width="1" height="99" fill="#c0c0c0" /><rect x="866" y="628" width="1" height="109" fill="#c0c0c0" /><rect x="874" y="628" width="1" height="106" fill="#c0c0c0" /><rect x="882" y="628" width="1" height="114" fill="#c0c0c0" /><rect x="890" y="628" width="1" height="111" fill="#c0c0c0" /><rect x="898" y="628" width="1" height="101" fill="#c0c0c0" /><rect x="906" y="628" width="1" height="95" fill="#c0c0c0" /><rect x="914" y="628" width="1" height="87" fill="#c0c0c0" /><rect x="922" y="628" width="1" height="83" fill="#c0c0c0" /><rect x="930" y="628" width="1" height="74" fill="#c0c0c0" /><rect x="938" y="628" width="1" height="72" fill="#c0c0c0" /><rect x="946" y="628" width="1" height="67" fill="#c0c0c0" /><rect x="954" y="628" width="1" height="62" fill="#c0c0c0" /><rect x="962" y="628" width="1" height="55" fill="#c0c0c0" /><rect x="970" y="628" width="1" height="44" fill="#c0c0c0" /><rect x="978" y="628" width="1" height="39" fill="#c0c0c0" /><rect x="986" y="628" width="1" height="32" fill="#c0c0c0" /><rect x="994" y="628" width="1" height="24" fill="#c0c0c0" /><rect x="1002" y="628" width="1" height="21" fill="#c0c0c0" /><rect x="1010" y="628" width="1" height="18" fill="#c0c0c0" /><rect x="1018" y="628" width="1" height="13" fill="#c0c0c0" /><rect x="1026" y="628" width="1" height="10" fill="#c0c0c0" /><rect x="1034" y="628" width="1" height="11" fill="#c0c0c0" /><rect x="1042" y="628" width="1" height="11" fill="#c0c0c0" /><rect x="1050" y="628" width="1" height="10" fill="#c0c0c0" /><rect x="1058" y="628" width="1" height="10" fill="#c0c0c0" /><rect x="1066" y="628" width="1" height="8" fill="#c0c0c0" /><rect x="1074" y="628" width="1" height="3" fill="#c0c0c0" /><rect x="1082" y="627" width="1" height="2" fill="#c0c0c0" /><rect x="1090" y="628" width="1" height="5" fill="#c0c0c0" /><rect x="1098" y="628" width="1" height="6" fill="#c0c0c0" /><rect x="1106" y="628" width="1" height="5" fill="#c0c0c0" /><rect x="1114" y="628" width="1" height="6" fill="#c0c0c0" /><rect x="1122" y="628" width="1" height="4" fill="#c0c0c0" /><rect x="1130" y="628" width="1" height="1" fill="#c0c0c0" /><rect x="1138" y="627" width="1" height="2" fill="#c0c0c0" /><rect x="1146" y="627" width="1" height="2" fill="#c0c0c0" /><rect x="1154" y="628" width="1" height="3" fill="#c0c0c0" /><rect x="1162" y="628" width="1" height="5" fill="#c0c0c0" /><rect x="1170" y="628" width="1" height="5" fill="#c0c0c0" /><rect x="1178" y="628" width="1" height="2" fill="#c0c0c0" /><rect x="1186" y="626" width="1" height="3" fill="#c0c0c0" /><rect x="1194" y="626" width="1" height="3" fill="#c0c0c0" /><rect x="1202" y="628" width="1" height="9" fill="#c0c0c0" /><rect x="1210" y="628" width="1" height="15" fill="#c0c0c0" /><rect x="1218" y="628" width="1" height="17" fill="#c0c0c0" /><rect x="1226" y="628" width="1" height="20" fill="#c0c0c0" /><rect x="1234" y="628" width="1" height="23" fill="#c0c0c0" /><rect x="1242" y="628" width="1" height="26" fill="#c0c0c0" /><rect x="1250" y="628" width="1" height="24" fill="#c0c0c0" /><rect x="1258" y="628" width="1" height="18" fill="#c0c0c0" /><rect x="1266" y="628" width="1" height="12" fill="#c0c0c0" /><rect x="1274" y="628" width="1" height="6" fill="#c0c0c0" /><rect x="1282" y="626" width="1" height="3" fill="#c0c0c0" /><rect x="1290" y="620" width="1" height="9" fill="#c0c0c0" /><rect x="1298" y="614" width="1" height="15" fill="#c0c0c0" /><rect x="1306" y="609" width="1" height="20" fill="#c0c0c0" /><rect x="1314" y="610" width="1" height="19" fill="#c0c0c0" /><rect x="1322" y="612" width="1" height="17" fill="#c0c0c0" /><rect x="1330" y="617" width="1" height="12" fill="#c0c0c0" /><rect x="1338" y="616" width="1" height="13" fill="#c0c0c0" /><rect x="1346" y="616" width="1" height="13" fill="#c0c0c0" /><rect x="1354" y="616" width="1" height="13" fill="#c0c0c0" /><rect x="1362" y="615" width="1" height="14" fill="#c0c0c0" /><rect x="1370" y="615" width="1" height="14" fill="#c0c0c0" /><rect x="1378" y="611" width="1" height="18" fill="#c0c0c0" /><rect x="1386" y="612" width="1" height="17" fill="#c0c0c0" /><rect x="1394" y="614" width="1" height="15" fill="#c0c0c0" /><rect x="1402" y="618" width="1" height="11" fill="#c0c0c0" /><rect x="1410" y="619" width="1" height="10" fill="#c0c0c0" /><rect x="1418" y="615" width="1" height="14" fill="#c0c0c0" /><rect x="1426" y="610" width="1" height="19" fill="#c0c0c0" /><rect x="1434" y="600" width="1" height="29" fill="#c0c0c0" /><rect x="1442" y="594" width="1" height="35" fill="#c0c0c0" /><rect x="1450" y="590" width="1" height="39" fill="#c0c0c0" /><polyline fill="none" stroke="#ff0000" stroke-width="1" stroke-dasharray="3,3" points="-5.5,638.7 2.5,638.7 10.5,638.3 18.5,637.4 26.5,636.3 34.5,634.7 42.5,632.8 50.5,630.4 58.5,628.1 66.5,625.9 74.5,624.2 82.5,622.7 90.5,621.5 98.5,620.7 106.5,619.9 114.5,619.1 122.5,617.9 130.5,616.2 138.5,614.3 146.5,612.1 154.5,610.0 162.5,608.4 170.5,607.1 178.5,606.7 186.5,607.3 194.5,609.0 202.5,611.3 210.5,613.8 218.5,616.7 226.5,620.1 234.5,623.1 242.5,625.5 250.5,627.0 258.5,627.7 266.5,627.8 274.5,628.1 282.5,628.9 290.5,629.8 298.5,630.7 306.5,631.7 314.5,632.9 322.5,634.1 330.5,635.4 338.5,636.6 346.5,636.9 354.5,636.1 362.5,634.5 370.5,631.9 378.5,628.5 386.5,624.9 394.5,621.1 402.5,617.1 410.5,613.1 418.5,609.2 426.5,605.8 434.5,602.8 442.5,600.2 450.5,598.1 458.5,596.5 466.5,595.3 474.5,594.6 482.5,593.9 490.5,593.5 498.5,593.2 506.5,593.0 514.5,593.2 522.5,593.3 530.5,593.2 538.5,593.3 546.5,593.9 554.5,595.0 562.5,596.8 570.5,599.5 578.5,603.2 586.5,608.2 594.5,614.4 602.5,621.6 610.5,628.7 618.5,635.2 626.5,640.9 634.5,645.7 642.5,649.8 650.5,652.4 658.5,653.1 666.5,652.3 674.5,650.2 682.5,647.5 690.5,644.7 698.5,642.2 706.5,639.9 714.5,637.9 722.5,637.0 730.5,636.9 738.5,637.6 746.5,638.8 754.5,640.9 762.5,643.4 770.5,646.0 778.5,648.9 786.5,651.3 794.5,653.4 802.5,656.2 810.5,659.0 818.5,661.9 826.5,665.5 834.5,669.6 842.5,675.2 850.5,681.3 858.5,689.1 866.5,697.7 874.5,704.9 882.5,712.7 890.5,719.7 898.5,724.5 906.5,727.7 914.5,728.5 922.5,728.0 930.5,725.2 938.5,721.1 946.5,716.6 954.5,710.9 962.5,704.7 970.5,698.3 978.5,692.1 986.5,686.0 994.5,679.5 1002.5,673.5 1010.5,667.6 1018.5,661.7 1026.5,655.8 1034.5,651.0 1042.5,647.3 1050.5,644.1 1058.5,641.7 1066.5,639.9 1074.5,638.0 1082.5,635.9 1090.5,635.0 1098.5,634.6 1106.5,634.0 1114.5,633.4 1122.5,632.8 1130.5,631.7 1138.5,630.9 1146.5,630.6 1154.5,631.0 1162.5,631.0 1170.5,630.9 1178.5,630.5 1186.5,629.8 1194.5,629.2 1202.5,630.1 1210.5,631.8 1218.5,633.6 1226.5,635.4 1234.5,637.4 1242.5,639.8 1250.5,642.1 1258.5,644.3 1266.5,645.7 1274.5,645.4 1282.5,643.6 1290.5,640.9 1298.5,637.3 1306.5,632.8 1314.5,628.0 1322.5,623.7 1330.5,620.5 1338.5,618.1 1346.5,616.2 1354.5,615.1 1362.5,614.5 1370.5,614.5 1378.5,614.7 1386.5,614.9 1394.5,615.1 1402.5,615.2 1410.5,615.5 1418.5,615.4 1426.5,614.7 1434.5,613.0 1442.5,610.8 1450.5,608.4"/></g>
<g shape-rendering="crispEdges"><line x1="0" y1="788.5" x2="1685" y2="788.5" stroke="#c0c0c0" stroke-width="1" stroke-dasharray="3,3"/><line x1="0" y1="839.5" x2="1685" y2="839.5" stroke="#c0c0c0" stroke-width="1" stroke-dasharray="3,3"/><line x1="0" y1="900.5" x2="1685" y2="900.5" stroke="#c0c0c0" stroke-width="1" stroke-dasharray="3,3"/><polyline fill="none" stroke="#1e90ff" stroke-width="1"  points="-5.5,837.0 2.5,830.5 10.5,832.3 18.5,827.4 26.5,820.0 34.5,828.8 42.5,828.5 50.5,825.0 58.5,835.8 66.5,828.3 74.5,831.2 82.5,824.5 90.5,830.7 98.5,835.9 106.5,824.5 114.5,820.0 122.5,809.4 130.5,807.8 138.5,806.6 146.5,804.7 154.5,812.5 162.5,838.3 170.5,838.8 178.5,853.3 186.5,857.0 194.5,858.1 202.5,844.1 210.5,832.8 218.5,841.1 226.5,850.1 234.5,844.4 242.5,834.0 250.5,835.6 258.5,834.8 266.5,839.1 274.5,852.9 282.5,848.2 290.5,850.7 298.5,858.1 306.5,852.0 314.5,844.0 322.5,844.1 330.5,847.1 338.5,839.1 346.5,829.9 354.5,814.7 362.5,818.7 370.5,814.2 378.5,812.6 386.5,816.5 394.5,813.7 402.5,817.1 410.5,815.1 418.5,807.3 426.5,805.2 434.5,811.3 442.5,805.0 450.5,812.2 458.5,822.1 466.5,817.6 474.5,829.2 482.5,816.6 490.5,816.2 498.5,810.4 506.5,816.4 514.5,817.4 522.5,814.4 530.5,810.6 538.5,825.2 546.5,847.0 554.5,837.1 562.5,847.8 570.5,846.6 578.5,861.4 586.5,871.4 594.5,872.5 602.5,873.1 610.5,857.8 618.5,858.6 626.5,843.4 634.5,845.6 642.5,848.9 650.5,838.8 658.5,834.8 666.5,837.3 674.5,835.1 682.5,833.1 690.5,843.5 698.5,839.6 706.5,843.5 714.5,848.5 722.5,859.1 730.5,856.3 738.5,860.0 746.5,856.5 754.5,866.3 762.5,862.6 770.5,861.4 778.5,864.5 786.5,847.8 794.5,860.9 802.5,876.5 810.5,862.4 818.5,866.1 826.5,877.1 834.5,878.8 842.5,887.4 850.5,880.7 858.5,887.5 866.5,888.5 874.5,865.7 882.5,877.1 890.5,860.2 898.5,850.0 906.5,853.7 914.5,850.0 922.5,854.3 930.5,846.2 938.5,853.3 946.5,849.3 954.5,849.9 962.5,843.4 970.5,835.7 978.5,843.1 986.5,838.1 994.5,835.9 1002.5,840.4 1010.5,841.3 1018.5,836.3 1026.5,837.3 1034.5,844.8 1042.5,842.8 1050.5,841.0 1058.5,844.9 1066.5,837.8 1074.5,831.9 1082.5,833.4 1090.5,850.2 1098.5,844.1 1106.5,839.7 1114.5,842.6 1122.5,838.5 1130.5,832.9 1138.5,838.7 1146.5,840.0 1154.5,846.4 1162.5,846.7 1170.5,841.5 1178.5,834.0 1186.5,832.4 1194.5,838.6 1202.5,860.7 1210.5,857.2 1218.5,848.4 1226.5,853.5 1234.5,854.9 1242.5,856.6 1250.5,843.7 1258.5,835.3 1266.5,830.9 1274.5,829.7 1282.5,823.7 1290.5,823.1 1298.5,821.3 1306.5,818.9 1314.5,833.9 1322.5,836.8 1330.5,846.7 1338.5,834.4 1346.5,833.6 1354.5,835.0 1362.5,829.9 1370.5,833.5 1378.5,824.5 1386.5,834.3 1394.5,837.9 1402.5,844.7 1410.5,839.7 1418.5,824.3 1426.5,821.9 1434.5,809.0 1442.5,817.0 1450.5,816.0"/></g>
<g shape-rendering="auto"><rect x="146" y="237" width="672" height="6" fill="#00ff00" /><rect x="1422" y="233" width="63" height="8" fill="#00ff00" /><g stroke="#ff0000" stroke-width="3.2" fill="none" stroke-linecap="butt"><line x1="1401.5" y1="378" x2="1446" y2="214"/><polyline points="1439.5,219.5 1446.6,211.5 1448.5,223" stroke-width="3"/><line x1="1446.8" y1="214" x2="1450.5" y2="234"/><polyline points="1444.5,224 1450.5,236 1454,224" stroke-width="3"/></g><rect x="1341.5" y="228.5" width="73" height="24" fill="#fff" stroke="#ff0000" stroke-width="1"/><rect x="1331" y="240" width="10" height="1" fill="#ff0000" /><rect x="1338.5" y="238.5" width="3" height="3" fill="#fff" stroke="#ff0000" stroke-width="1"/><text x="1342.500" y="248.6" font-size="21.5" fill="#ff0000" textLength="70.5" lengthAdjust="spacingAndGlyphs">26187.7</text><text x="400.5" y="273.5" font-size="20.5" letter-spacing="1.8" font-family="'Liberation Serif','Noto Serif CJK SC',serif" font-weight="500" fill="#00ff00">支撑位</text><text x="1261.5" y="219" font-size="21" letter-spacing="1.3" font-family="'Liberation Serif','Noto Serif CJK SC',serif" font-weight="500" fill="#00ff00">多空转折点</text><text x="1178.5" y="255" font-size="21" letter-spacing="1" font-family="'Liberation Serif','Noto Serif CJK SC',serif" font-weight="500" fill="#00ff00">转压制</text></g>
<g><rect x="0" y="25" width="1686" height="1" fill="#000" /><rect x="1685" y="25" width="1" height="902" fill="#000" /><rect x="0" y="578" width="1686" height="1" fill="#000" /><rect x="0" y="580" width="1686" height="1" fill="#000" /><rect x="0" y="750" width="1686" height="1" fill="#000" /><rect x="0" y="752" width="1686" height="1" fill="#000" /><rect x="0" y="926" width="1686" height="1" fill="#000" /><rect x="1731" y="23" width="1" height="920" fill="#e3e3e3" /></g>
<g shape-rendering="auto"><rect x="1686" y="47" width="2" height="1" fill="#000" /><text x="1691" y="51" font-size="10" fill="#000" letter-spacing="-0.5">29298.0</text><rect x="1686" y="80" width="2" height="1" fill="#000" /><text x="1691" y="84" font-size="10" fill="#000" letter-spacing="-0.5">28770.0</text><rect x="1686" y="113" width="2" height="1" fill="#000" /><text x="1691" y="117" font-size="10" fill="#000" letter-spacing="-0.5">28242.0</text><rect x="1686" y="146" width="2" height="1" fill="#000" /><text x="1691" y="150" font-size="10" fill="#000" letter-spacing="-0.5">27698.0</text><rect x="1686" y="179" width="2" height="1" fill="#000" /><text x="1691" y="183" font-size="10" fill="#000" letter-spacing="-0.5">27170.0</text><rect x="1686" y="212" width="2" height="1" fill="#000" /><text x="1691" y="216" font-size="10" fill="#000" letter-spacing="-0.5">26642.0</text><rect x="1686" y="278" width="2" height="1" fill="#000" /><text x="1691" y="282" font-size="10" fill="#000" letter-spacing="-0.5">25570.0</text><rect x="1686" y="311" width="2" height="1" fill="#000" /><text x="1691" y="315" font-size="10" fill="#000" letter-spacing="-0.5">25042.0</text><rect x="1686" y="344" width="2" height="1" fill="#000" /><text x="1691" y="348" font-size="10" fill="#000" letter-spacing="-0.5">24514.0</text><rect x="1686" y="377" width="2" height="1" fill="#000" /><text x="1691" y="381" font-size="10" fill="#000" letter-spacing="-0.5">23986.0</text><rect x="1686" y="410" width="2" height="1" fill="#000" /><text x="1691" y="414" font-size="10" fill="#000" letter-spacing="-0.5">23458.0</text><rect x="1686" y="443" width="2" height="1" fill="#000" /><text x="1691" y="447" font-size="10" fill="#000" letter-spacing="-0.5">22914.0</text><rect x="1686" y="476" width="2" height="1" fill="#000" /><text x="1691" y="480" font-size="10" fill="#000" letter-spacing="-0.5">22386.0</text><rect x="1686" y="509" width="2" height="1" fill="#000" /><text x="1691" y="513" font-size="10" fill="#000" letter-spacing="-0.5">21858.0</text><rect x="1686" y="542" width="2" height="1" fill="#000" /><text x="1691" y="546" font-size="10" fill="#000" letter-spacing="-0.5">21330.0</text><rect x="1686" y="575" width="2" height="1" fill="#000" /><text x="1691" y="579" font-size="10" fill="#000" letter-spacing="-0.5">20802.0</text><rect x="1687" y="190" width="41" height="11" fill="#ff0000" /><text x="1691" y="199.3" font-size="10" fill="#fff" letter-spacing="-0.5">26895.1</text><rect x="1687" y="217" width="41" height="11" fill="#ff0000" /><text x="1691" y="226.3" font-size="10" fill="#fff" letter-spacing="-0.5">26461.0</text><rect x="1687" y="234" width="41" height="11" fill="#32cd32" /><text x="1691" y="243.3" font-size="10" fill="#fff" letter-spacing="-0.5">26187.7</text><rect x="1687" y="245" width="41" height="10" fill="#000" /><text x="1691" y="254.3" font-size="10" fill="#fff" letter-spacing="-0.5">26049.0</text><rect x="1687" y="263" width="41" height="11" fill="#0000ff" /><text x="1691" y="272.3" font-size="10" fill="#fff" letter-spacing="-0.5">25721.5</text><rect x="1687" y="289" width="41" height="11" fill="#0000ff" /><text x="1691" y="298.3" font-size="10" fill="#fff" letter-spacing="-0.5">25303.5</text><rect x="1686" y="582" width="2" height="1" fill="#000" /><text x="1689" y="591" font-size="10" fill="#000" letter-spacing="-0.5">543.21</text><rect x="1686" y="628" width="2" height="1" fill="#000" /><text x="1689" y="632" font-size="10" fill="#000" letter-spacing="-0.5">0.00</text><rect x="1686" y="749" width="2" height="1" fill="#000" /><text x="1689" y="747" font-size="10" fill="#000" letter-spacing="-0.5">-1412.67</text><rect x="1686" y="754" width="2" height="1" fill="#000" /><text x="1689" y="763" font-size="10" fill="#000" letter-spacing="-0.5">100</text><rect x="1686" y="788" width="2" height="1" fill="#000" /><text x="1689" y="792" font-size="10" fill="#000" letter-spacing="-0.5">80</text><rect x="1686" y="839" width="2" height="1" fill="#000" /><text x="1689" y="843" font-size="10" fill="#000" letter-spacing="-0.5">50</text><rect x="1686" y="900" width="2" height="1" fill="#000" /><text x="1689" y="904" font-size="10" fill="#000" letter-spacing="-0.5">15</text><rect x="1686" y="925" width="2" height="1" fill="#000" /><text x="1689" y="923" font-size="10" fill="#000" letter-spacing="-0.5">0</text><rect x="-6" y="927" width="1" height="3" fill="#000" /><text x="-7" y="939" font-size="10" fill="#000" letter-spacing="-0.38">11 Oct 2019</text><rect x="58" y="927" width="1" height="3" fill="#000" /><text x="57" y="939" font-size="10" fill="#000" letter-spacing="-0.38">23 Oct 2019</text><rect x="122" y="927" width="1" height="3" fill="#000" /><text x="121" y="939" font-size="10" fill="#000" letter-spacing="-0.38">4 Nov 2019</text><rect x="186" y="927" width="1" height="3" fill="#000" /><text x="185" y="939" font-size="10" fill="#000" letter-spacing="-0.38">14 Nov 2019</text><rect x="250" y="927" width="1" height="3" fill="#000" /><text x="249" y="939" font-size="10" fill="#000" letter-spacing="-0.38">26 Nov 2019</text><rect x="314" y="927" width="1" height="3" fill="#000" /><text x="313" y="939" font-size="10" fill="#000" letter-spacing="-0.38">6 Dec 2019</text><rect x="378" y="927" width="1" height="3" fill="#000" /><text x="377" y="939" font-size="10" fill="#000" letter-spacing="-0.38">18 Dec 2019</text><rect x="442" y="927" width="1" height="3" fill="#000" /><text x="441" y="939" font-size="10" fill="#000" letter-spacing="-0.38">2 Jan 2020</text><rect x="506" y="927" width="1" height="3" fill="#000" /><text x="505" y="939" font-size="10" fill="#000" letter-spacing="-0.38">14 Jan 2020</text><rect x="570" y="927" width="1" height="3" fill="#000" /><text x="569" y="939" font-size="10" fill="#000" letter-spacing="-0.38">24 Jan 2020</text><rect x="634" y="927" width="1" height="3" fill="#000" /><text x="633" y="939" font-size="10" fill="#000" letter-spacing="-0.38">7 Feb 2020</text><rect x="698" y="927" width="1" height="3" fill="#000" /><text x="697" y="939" font-size="10" fill="#000" letter-spacing="-0.38">19 Feb 2020</text><rect x="762" y="927" width="1" height="3" fill="#000" /><text x="761" y="939" font-size="10" fill="#000" letter-spacing="-0.38">2 Mar 2020</text><rect x="826" y="927" width="1" height="3" fill="#000" /><text x="825" y="939" font-size="10" fill="#000" letter-spacing="-0.38">12 Mar 2020</text><rect x="890" y="927" width="1" height="3" fill="#000" /><text x="889" y="939" font-size="10" fill="#000" letter-spacing="-0.38">24 Mar 2020</text><rect x="954" y="927" width="1" height="3" fill="#000" /><text x="953" y="939" font-size="10" fill="#000" letter-spacing="-0.38">3 Apr 2020</text><rect x="1018" y="927" width="1" height="3" fill="#000" /><text x="1017" y="939" font-size="10" fill="#000" letter-spacing="-0.38">17 Apr 2020</text><rect x="1082" y="927" width="1" height="3" fill="#000" /><text x="1081" y="939" font-size="10" fill="#000" letter-spacing="-0.38">29 Apr 2020</text><rect x="1146" y="927" width="1" height="3" fill="#000" /><text x="1145" y="939" font-size="10" fill="#000" letter-spacing="-0.38">13 May 2020</text><rect x="1210" y="927" width="1" height="3" fill="#000" /><text x="1209" y="939" font-size="10" fill="#000" letter-spacing="-0.38">25 May 2020</text><rect x="1274" y="927" width="1" height="3" fill="#000" /><text x="1273" y="939" font-size="10" fill="#000" letter-spacing="-0.38">4 Jun 2020</text><rect x="1338" y="927" width="1" height="3" fill="#000" /><text x="1337" y="939" font-size="10" fill="#000" letter-spacing="-0.38">16 Jun 2020</text><rect x="1402" y="927" width="1" height="3" fill="#000" /><text x="1401" y="939" font-size="10" fill="#000" letter-spacing="-0.38">29 Jun 2020</text><text x="9.2" y="37" font-size="10" fill="#000" textLength="50.3" lengthAdjust="spacing">HK50-,Daily</text><text x="65.8" y="37" font-size="10" fill="#000" textLength="141" lengthAdjust="spacing">26101.0 26322.5 25874.0 26049.0</text><polygon points="0,31.5 4.5,36.5 0,36.5" fill="#000"/><text x="-1" y="593" font-size="10" fill="#000" letter-spacing="-0.36">MACD(12,26,9) 454.30 241.72</text><text x="-2" y="765" font-size="10" fill="#000" letter-spacing="-0.36">RSI(14) 64.2823</text><rect x="652" y="26" width="1" height="1" fill="#fff" /><polygon points="1459,26 1469,26 1464,31" fill="#c0c0c0"/></g>
<g shape-rendering="auto"><defs><linearGradient id="pr" x1="0" y1="0" x2="0" y2="1"><stop offset="0" stop-color="#f54e4e"/><stop offset="0.38" stop-color="#dc2a2a"/><stop offset="1" stop-color="#b00000"/></linearGradient><linearGradient id="sb" x1="0" y1="0" x2="0" y2="1"><stop offset="0" stop-color="#eeeeee"/><stop offset="0.45" stop-color="#e2e2e2"/><stop offset="0.5" stop-color="#d2d2d2"/><stop offset="1" stop-color="#cfcfcf"/></linearGradient></defs><rect x="0" y="44" width="216" height="66" fill="#fff"/><path d="M0,45.5H48.5V69.5H105.5V108.5H0Z" fill="url(#pr)" stroke="#b00000" stroke-width="1" shape-rendering="crispEdges"/><path d="M215.5,45.5H164.5V69.5H108.5V108.5H215.5Z" fill="url(#pr)" stroke="#b00000" stroke-width="1" shape-rendering="crispEdges"/><rect x="1" y="68" width="44" height="1" fill="#b00000"/><rect x="1" y="69" width="44" height="1" fill="#f59a9a"/><rect x="168" y="68" width="44" height="1" fill="#b00000"/><rect x="168" y="69" width="44" height="1" fill="#f59a9a"/><rect x="51.500" y="45.5" width="110" height="21" fill="#fff" stroke="#a8aab4" stroke-width="1" shape-rendering="crispEdges"/><rect x="53" y="47" width="18" height="18" fill="url(#sb)"/><rect x="72" y="46" width="1" height="20" fill="#a8aab4"/><rect x="142" y="47" width="18" height="18" fill="url(#sb)"/><rect x="140" y="46" width="1" height="20" fill="#a8aab4"/><polygon points="59,54 65,54 62,57.5" fill="#5a5fc0"/><polygon points="148,57 154,57 151,53.5" fill="#5a5fc0"/><text x="137" y="59.8" font-size="12" fill="#000" text-anchor="end" letter-spacing="-0.3">1.00</text><text x="9" y="60.6" font-size="11.8" fill="#fff" textLength="25.5" lengthAdjust="spacingAndGlyphs">SELL</text><text x="177.600" y="60.6" font-size="11.8" fill="#fff" textLength="23.2" lengthAdjust="spacingAndGlyphs">BUY</text><text x="13.3" y="99.4" font-size="11.2" font-weight="bold" fill="#fff" textLength="33.5" lengthAdjust="spacingAndGlyphs">26047</text><text x="123" y="99.4" font-size="11.2" font-weight="bold" fill="#fff" textLength="33.5" lengthAdjust="spacingAndGlyphs">26067</text><text x="51.5" y="99.4" font-size="32.5" fill="#fff" textLength="23" lengthAdjust="spacingAndGlyphs">.5</text><text x="162.500" y="99.4" font-size="32.5" fill="#fff" textLength="23" lengthAdjust="spacingAndGlyphs">.5</text></g>
<g shape-rendering="auto"><defs><linearGradient id="gplus" x1="0" y1="0" x2="0" y2="1"><stop offset="0" stop-color="#7cf07c"/><stop offset="0.5" stop-color="#2fd62f"/><stop offset="1" stop-color="#12a812"/></linearGradient><linearGradient id="ggold" x1="0" y1="0" x2="1" y2="1"><stop offset="0" stop-color="#f6d860"/><stop offset="1" stop-color="#b47a12"/></linearGradient><linearGradient id="gblue" x1="0" y1="0" x2="0" y2="1"><stop offset="0" stop-color="#5aa0f0"/><stop offset="1" stop-color="#1450b8"/></linearGradient><linearGradient id="ggreen" x1="0" y1="0" x2="0" y2="1"><stop offset="0" stop-color="#6cc84c"/><stop offset="1" stop-color="#2a8a1a"/></linearGradient><radialGradient id="glens" cx="0.4" cy="0.35" r="0.7"><stop offset="0" stop-color="#f4faff"/><stop offset="1" stop-color="#b8d4f0"/></radialGradient><pattern id="hl" width="2" height="2" patternUnits="userSpaceOnUse"><rect width="2" height="2" fill="#f0f0f0"/><rect width="1" height="1" fill="#fff"/><rect x="1" y="1" width="1" height="1" fill="#fff"/></pattern></defs><rect x="0" y="0" width="1732" height="21" fill="#f0f0f0"/><rect x="0" y="20" width="1732" height="1" fill="#d8d8d8"/><rect x="0" y="21" width="1732" height="1" fill="#9a9a9a"/><rect x="0" y="22" width="1732" height="1" fill="#6e6e6e"/><rect x="0" y="23" width="1732" height="2" fill="#ffffff"/><rect x="-8" y="2.5" width="16.5" height="13" rx="1.5" fill="#fff" stroke="#3f7fd6" stroke-width="1.4"/><rect x="-6" y="5.5" width="13" height="1" fill="#b9d1f3"/><rect x="-6" y="8.5" width="13" height="1" fill="#b9d1f3"/><rect x="-6" y="11.5" width="13" height="1" fill="#b9d1f3"/><rect x="21.5" y="1.5" width="12" height="13" fill="#f6f6f6" stroke="#b0b0b0" stroke-width="1"/><path d="M24,4v7M23,6h1M24,9h1M30,3v7M29,5h1M30,8h1" stroke="#808080" stroke-width="1" fill="none"/><line x1="32.5" y1="12.5" x2="37.5" y2="17" stroke="#b08a20" stroke-width="2.6" stroke-linecap="round"/><circle cx="29.3" cy="9.3" r="4.6" fill="#cfe0f4" fill-opacity="0.85" stroke="#7fa8e8" stroke-width="1.3"/><rect x="46" y="0" width="1" height="19" fill="#a0a0a0"/><path d="M56.5,1.5h7.5l4,4v9h-11.5z" fill="#fbfbfb" stroke="#7a7a7a" stroke-width="1"/><path d="M64.0,1.5v4h4" fill="#e0e0e0" stroke="#7a7a7a" stroke-width="0.8"/><path d="M59,5h4M59,8h6M59,10.5h3" stroke="#9a9a9a" stroke-width="1"/><path d="M64,7h4v4h4v4h-4v4h-4v-4h-4v-4h4z" fill="url(#gplus)" stroke="#118a11" stroke-width="0.7"/><text x="75" y="12.5" font-size="12" fill="#000" font-family="'Liberation Sans','Noto Sans CJK SC',sans-serif">新订单</text><path d="M123.5,10.5 L130,2 L139,7.5 L137.5,11.5 L131.5,16.5 Z" fill="url(#ggold)" stroke="#a87414" stroke-width="0.8"/><path d="M123.5,10.5 L131.5,15 L137.5,10 M131.5,15v1.5" stroke="#8a5c0c" stroke-width="1" fill="none"/><path d="M130,2.8 L138,7.7 L131.8,13.4 L124.8,10 Z" fill="#f4cf52" fill-opacity="0.9"/><path d="M153.5,2.5 l3,-1.3 h7 v8.5 h-10z" fill="url(#gblue)" stroke="#2a62c0" stroke-width="0.8"/><rect x="156.8" y="3" width="6" height="6" fill="#dcebfb"/><path d="M158,5h4M158,7h3" stroke="#3f7fd6" stroke-width="1"/><path d="M154,16.2 a2.6,2.6 0 0 1 0.6,-5.1 a3.6,3.6 0 0 1 6.6,-0.8 a2.6,2.6 0 0 1 3.4,2 a2.1,2.1 0 0 1 -0.6,3.9z" fill="#f4f8fe" stroke="#7b9fd6" stroke-width="1"/><path d="M185.2,16.1 A7.7,7.7 0 1 1 187.2,1.0" transform="rotate(-8 187.2 8.7)" fill="none" stroke="#5b8fe0" stroke-opacity="0.45" stroke-width="1.2"/><path d="M187.2,1.0 A7.7,7.7 0 0 1 191.0,15.4" fill="none" stroke="#4aa84a" stroke-opacity="0.45" stroke-width="1.3"/><path d="M185.8,13.9 A5.4,5.4 0 1 1 187.2,3.3" transform="rotate(-8 187.2 8.7)" fill="none" stroke="#5b8fe0" stroke-opacity="0.7" stroke-width="1.2"/><path d="M187.2,3.3 A5.4,5.4 0 0 1 189.9,13.4" fill="none" stroke="#4aa84a" stroke-opacity="0.7" stroke-width="1.3"/><path d="M186.4,11.7 A3.1,3.1 0 1 1 187.2,5.6" transform="rotate(-8 187.2 8.7)" fill="none" stroke="#5b8fe0" stroke-opacity="0.95" stroke-width="1.2"/><path d="M187.2,5.6 A3.1,3.1 0 0 1 188.8,11.4" fill="none" stroke="#4aa84a" stroke-opacity="0.95" stroke-width="1.3"/><path d="M187.4,8.7V16.2h2.5" stroke="#2fa82f" stroke-width="1.6" fill="none"/><circle cx="187.2" cy="8.5" r="1.5" fill="#2f66d0"/><path d="M207,9 L221,9 L216.5,16 L213,16 Z" fill="#f6dc6a" stroke="#c8a020" stroke-width="0.8"/><ellipse cx="214" cy="6.3" rx="7.8" ry="2.7" fill="#4f9ad8" stroke="#2f74b8" stroke-width="0.6"/><path d="M209.5,5.8 a4.5,4.3 0 0 1 9,0z" fill="#6ab4ea" stroke="#2f74b8" stroke-width="0.6"/><circle cx="218.4" cy="13" r="3.9" fill="#e0281c" stroke="#b01810" stroke-width="0.5"/><rect x="217" y="11.6" width="2.8" height="2.8" fill="#fff"/><text x="227" y="12.5" font-size="12" fill="#000" font-family="'Liberation Sans','Noto Sans CJK SC',sans-serif" letter-spacing="-0.15">自动交易</text><rect x="282" y="0" width="1" height="21" fill="#a0a0a0"/><rect x="283" y="0" width="1" height="21" fill="#fff"/><rect x="286" y="1" width="3" height="1" fill="#a8a8a8"/><rect x="286" y="3" width="3" height="1" fill="#a8a8a8"/><rect x="286" y="5" width="3" height="1" fill="#a8a8a8"/><rect x="286" y="7" width="3" height="1" fill="#a8a8a8"/><rect x="286" y="9" width="3" height="1" fill="#a8a8a8"/><rect x="286" y="11" width="3" height="1" fill="#a8a8a8"/><rect x="286" y="13" width="3" height="1" fill="#a8a8a8"/><rect x="286" y="15" width="3" height="1" fill="#a8a8a8"/><rect x="286" y="17" width="3" height="1" fill="#a8a8a8"/><path d="M300.5,16.5V3.5 M297,14.5H311" stroke="#505050" stroke-width="1.3" fill="none"/><polygon points="298.5,5.5 300.5,2.2 302.5,5.5" fill="#505050"/><polygon points="309,12.5 312.2,14.5 309,16.5" fill="#505050"/><path d="M306.8,4.3V12.3 M306.8,5.6h2.4 M304.2,11.3h2.6" stroke="#23a523" stroke-width="1.7" fill="none"/><rect x="320" y="0" width="1" height="19" fill="#a0a0a0"/><rect x="321" y="0" width="24" height="19" fill="url(#hl)"/><path d="M328.5,16.5V3.5 M325,14.5H339" stroke="#505050" stroke-width="1.3" fill="none"/><polygon points="326.5,5.5 328.5,2.2 330.5,5.5" fill="#505050"/><polygon points="337,12.5 340.2,14.5 337,16.5" fill="#505050"/><path d="M334.5,1V13" stroke="#1f9a1f" stroke-width="1.4"/><rect x="332.3" y="3.3" width="4.4" height="7.4" fill="#3fd83f" stroke="#1f9a1f" stroke-width="0.9"/><path d="M356.5,16.5V3.5 M353,14.5H367" stroke="#505050" stroke-width="1.3" fill="none"/><polygon points="354.5,5.5 356.5,2.2 358.5,5.5" fill="#505050"/><polygon points="365,12.5 368.2,14.5 365,16.5" fill="#505050"/><path d="M355,11.7 C358,9.5 359.5,5.8 361.3,6 C363,6.2 364.5,9.5 366.8,10" stroke="#2a9a2a" stroke-width="1.3" fill="none"/><rect x="377" y="0" width="1" height="19" fill="#a0a0a0"/><line x1="395.5" y1="10.4" x2="401" y2="15.9" stroke="#a88418" stroke-width="3.4" stroke-linecap="round"/><line x1="395.8" y1="10.7" x2="400.6" y2="15.5" stroke="#f2d45a" stroke-width="1.6" stroke-linecap="round"/><circle cx="392" cy="6.9" r="5.2" fill="url(#glens)" stroke="#4a86d8" stroke-width="1.5"/><path d="M389,6.9h6M392,3.9000000000000004v6" stroke="#3a74c4" stroke-width="1.8"/><line x1="423.7" y1="10.4" x2="429.2" y2="15.9" stroke="#a88418" stroke-width="3.4" stroke-linecap="round"/><line x1="424.0" y1="10.7" x2="428.8" y2="15.5" stroke="#f2d45a" stroke-width="1.6" stroke-linecap="round"/><circle cx="420.2" cy="6.9" r="5.2" fill="url(#glens)" stroke="#4a86d8" stroke-width="1.5"/><path d="M417.2,6.9h6" stroke="#3a74c4" stroke-width="1.8"/><rect x="442" y="1" width="7.9" height="7.8" rx="0.8" fill="url(#ggreen)"/><rect x="443.3" y="3.6" width="5.3" height="3.8" fill="#fff" fill-opacity="0.92"/><rect x="444.2" y="4.9" width="3.5" height="0.9" fill="url(#ggreen)" fill-opacity="0.8"/><rect x="450.3" y="1" width="7.9" height="7.8" rx="0.8" fill="url(#gblue)"/><rect x="451.6" y="3.6" width="5.3" height="3.8" fill="#fff" fill-opacity="0.92"/><rect x="452.5" y="4.9" width="3.5" height="0.9" fill="url(#gblue)" fill-opacity="0.8"/><rect x="442" y="9.2" width="7.9" height="7.8" rx="0.8" fill="url(#gblue)"/><rect x="443.3" y="11.799999999999999" width="5.3" height="3.8" fill="#fff" fill-opacity="0.92"/><rect x="444.2" y="13.1" width="3.5" height="0.9" fill="url(#gblue)" fill-opacity="0.8"/><rect x="450.3" y="9.2" width="7.9" height="7.8" rx="0.8" fill="url(#ggreen)"/><rect x="451.6" y="11.799999999999999" width="5.3" height="3.8" fill="#fff" fill-opacity="0.92"/><rect x="452.5" y="13.1" width="3.5" height="0.9" fill="url(#ggreen)" fill-opacity="0.8"/><rect x="467" y="0" width="1" height="19" fill="#a0a0a0"/><rect x="472" y="0" width="1" height="19" fill="#a0a0a0"/><rect x="473" y="0" width="24" height="19" fill="url(#hl)"/><path d="M480.5,16.5V3.5 M477,14.5H491" stroke="#505050" stroke-width="1.3" fill="none"/><polygon points="478.5,5.5 480.5,2.2 482.5,5.5" fill="#505050"/><polygon points="489,12.5 492.2,14.5 489,16.5" fill="#505050"/><polygon points="485.3,5.2 488.8,8.6 485.3,11.8" fill="#5fdc5f" stroke="#1f9a1f" stroke-width="1"/><rect x="500" y="0" width="1" height="19" fill="#a0a0a0"/><rect x="501" y="0" width="24" height="19" fill="url(#hl)"/><path d="M508.5,16.5V3.5 M505,14.5H519" stroke="#505050" stroke-width="1.3" fill="none"/><polygon points="506.5,5.5 508.5,2.2 510.5,5.5" fill="#505050"/><polygon points="517,12.5 520.2,14.5 517,16.5" fill="#505050"/><rect x="514" y="3" width="1.2" height="10" fill="#1f6fa8"/><path d="M520,8.7h-4" stroke="#d84a10" stroke-width="1.2"/><polygon points="515.4,8.7 518,6.6 517.6,8.7 518,10.8" fill="#d84a10"/><rect x="529" y="0" width="1" height="19" fill="#a0a0a0"/><path d="M539.5,1.5h7l4,4v8.5h-11z" fill="#fbfbfb" stroke="#7a7a7a" stroke-width="1"/><path d="M546.5,1.5v4h4" fill="#e0e0e0" stroke="#7a7a7a" stroke-width="0.8"/><path d="M542,4.5v5M541,6h1" stroke="#9a9a9a" stroke-width="1"/><path d="M547.2,7h4v4h4v4h-4v4h-4v-4h-4v-4h4z" fill="url(#gplus)" stroke="#118a11" stroke-width="0.7"/><polygon points="560.8,8 566.8,8 563.8,11" fill="#000"/><circle cx="585.1" cy="8.7" r="7.2" fill="#fdfdfd" stroke="url(#gblue)" stroke-width="2.2"/><circle cx="585.1" cy="8.7" r="7.9" fill="none" stroke="#0e4aa8" stroke-width="0.6"/><path d="M585.1,4.2V8.9H588" stroke="#303030" stroke-width="1.1" fill="none"/><path d="M585.1,2.9v1M585.1,13.6v1M579.3,8.7h1M589.9,8.7h1" stroke="#7aa0d8" stroke-width="0.9"/><polygon points="599.8,8 605.8,8 602.8,11" fill="#000"/><rect x="616.5" y="2.5" width="15.2" height="13.3" fill="#fff" stroke="#3f78c8" stroke-width="1.1"/><rect x="617" y="3" width="14.2" height="2.3" fill="url(#gblue)"/><rect x="617" y="9.3" width="14.2" height="0.9" fill="#5a8fd6"/><polyline points="618.5,8.2 620,8.2 621.5,7 623.5,7 624.5,6.3 626,7.3 627.5,6.8 629,6.2 630,6.2" stroke="#a8200c" stroke-width="1.2" fill="none"/><polyline points="618.8,13.8 620.5,13.2 621.8,13.7 623.5,12.5 625,13.4 627,11.5 628.5,12.3 630,13.8" stroke="#1f8a1f" stroke-width="1.2" fill="none"/><polygon points="638.9,8 644.9,8 641.9,11" fill="#000"/><rect x="650" y="0" width="1" height="21" fill="#a0a0a0"/><rect x="651" y="0" width="1" height="21" fill="#fff"/><rect x="654" y="1" width="3" height="1" fill="#a8a8a8"/><rect x="654" y="3" width="3" height="1" fill="#a8a8a8"/><rect x="654" y="5" width="3" height="1" fill="#a8a8a8"/><rect x="654" y="7" width="3" height="1" fill="#a8a8a8"/><rect x="654" y="9" width="3" height="1" fill="#a8a8a8"/><rect x="654" y="11" width="3" height="1" fill="#a8a8a8"/><rect x="654" y="13" width="3" height="1" fill="#a8a8a8"/><rect x="654" y="15" width="3" height="1" fill="#a8a8a8"/><rect x="654" y="17" width="3" height="1" fill="#a8a8a8"/><rect x="660" y="0" width="1" height="19" fill="#a0a0a0"/><rect x="661" y="0" width="24" height="19" fill="url(#hl)"/><path d="M668.2,2.2 L668.2,13.4 L670.9,11 L673.3,16 L675.5,15 L673.1,10.2 L676.4,10 Z" fill="#4a4a4a"/><path d="M693,9.5h6.2M701.8,9.5h6.2M700.5,2v6.2M700.5,10.8v6.2" stroke="#505050" stroke-width="1.1"/><rect x="700" y="9" width="1" height="1" fill="#505050"/><rect x="717" y="0" width="1" height="19" fill="#a0a0a0"/><path d="M734.6,3V16" stroke="#505050" stroke-width="1.4"/><path d="M756.7,9.4H769.3" stroke="#505050" stroke-width="1.4"/><path d="M784.8,16 L797,3.9" stroke="#505050" stroke-width="1.3"/><path d="M811.3,10.8 L822,1.8 M813.5,15.6 L824.7,6.4" stroke="#505050" stroke-width="1.1"/><path d="M813,9.3v6.5M815.6,7.5v6.5M818.2,5.3v6.5M820.8,3.2v6.5M823,1.5v5.5" stroke="#505050" stroke-width="0.9"/><text x="821.5" y="17.8" font-size="6.5" font-weight="bold" fill="#404040">E</text><line x1="840" y1="2.4" x2="853" y2="2.4" stroke="#505050" stroke-width="1" stroke-dasharray="1,1"/><line x1="840" y1="5.6" x2="853" y2="5.6" stroke="#505050" stroke-width="1" stroke-dasharray="1,1"/><line x1="840" y1="9.5" x2="853" y2="9.5" stroke="#505050" stroke-width="1" stroke-dasharray="1,1"/><line x1="840" y1="13.4" x2="849" y2="13.4" stroke="#505050" stroke-width="1" stroke-dasharray="1,1"/><text x="849.8" y="17.8" font-size="6.5" font-weight="bold" fill="#404040">F</text><text x="870.2" y="14" font-size="12.5" font-weight="bold" fill="#585858" stroke="#f0f0f0" stroke-width="0.35">A</text><rect x="897.5" y="3.5" width="11" height="12" fill="none" stroke="#505050" stroke-width="1" stroke-dasharray="1,1"/><text x="899" y="14.3" font-size="11.5" font-weight="bold" fill="#585858">T</text><polygon points="927.4,2.8 930.2,5.6 927.4,7.6 924.6,5.6" fill="#505050"/><polygon points="934.8,11 937.8,13.4 934.8,16 931.8,13.4" fill="#505050"/><path d="M926.2,9.8 L928.3,12 L932.6,6.8" stroke="#505050" stroke-width="1.4" fill="none"/><polygon points="944.8,8 950.8,8 947.8,11" fill="#000"/><rect x="956" y="0" width="1" height="21" fill="#a0a0a0"/><rect x="957" y="0" width="1" height="21" fill="#fff"/><rect x="960" y="1" width="3" height="1" fill="#a8a8a8"/><rect x="960" y="3" width="3" height="1" fill="#a8a8a8"/><rect x="960" y="5" width="3" height="1" fill="#a8a8a8"/><rect x="960" y="7" width="3" height="1" fill="#a8a8a8"/><rect x="960" y="9" width="3" height="1" fill="#a8a8a8"/><rect x="960" y="11" width="3" height="1" fill="#a8a8a8"/><rect x="960" y="13" width="3" height="1" fill="#a8a8a8"/><rect x="960" y="15" width="3" height="1" fill="#a8a8a8"/><rect x="960" y="17" width="3" height="1" fill="#a8a8a8"/><rect x="1134" y="0" width="1" height="19" fill="#a0a0a0"/><rect x="1135" y="0" width="25" height="19" fill="url(#hl)"/><text x="971.2" y="13.2" font-size="10" fill="#404040" textLength="13.3" lengthAdjust="spacingAndGlyphs">M1</text><text x="999.3" y="13.2" font-size="10" fill="#404040" textLength="13.3" lengthAdjust="spacingAndGlyphs">M5</text><text x="1025.6" y="13.2" font-size="10" fill="#404040" textLength="17.8" lengthAdjust="spacingAndGlyphs">M15</text><text x="1053.5" y="13.2" font-size="10" fill="#404040" textLength="17.8" lengthAdjust="spacingAndGlyphs">M30</text><text x="1084.2" y="13.2" font-size="10" fill="#404040" textLength="11.8" lengthAdjust="spacingAndGlyphs">H1</text><text x="1111.2" y="13.2" font-size="10" fill="#404040" textLength="12.8" lengthAdjust="spacingAndGlyphs">H4</text><text x="1140.3" y="13.2" font-size="10" fill="#404040" textLength="12" lengthAdjust="spacingAndGlyphs">D1</text><text x="1167.8" y="13.2" font-size="10" fill="#404040" textLength="14.2" lengthAdjust="spacingAndGlyphs">W1</text><text x="1194.5" y="13.2" font-size="10" fill="#404040" textLength="15" lengthAdjust="spacingAndGlyphs">MN</text><rect x="1217" y="0" width="1" height="19" fill="#a0a0a0"/><line x1="1684.2" y1="9.2" x2="1680.6" y2="13.2" stroke="#2458c8" stroke-width="2.2" stroke-linecap="round"/><circle cx="1687.6" cy="6.5" r="4.1" fill="#f6f6ff" stroke="#2a62d4" stroke-width="1.3"/><path d="M1722.2,10 l1.6,3 l-3.4,-2.4z" fill="#8a8a8a"/><ellipse cx="1720.1" cy="6.1" rx="6.6" ry="4.6" fill="#f7f7f9" stroke="#9a9a9a" stroke-width="0.9"/><path d="M1709.6,13 l-1.2,3 l3.4,-2.2z" fill="#7a7a7a"/><ellipse cx="1711.3" cy="10" rx="5" ry="3.8" fill="#fafafc" stroke="#8e8e8e" stroke-width="0.9"/></g>
</svg></body></html>
